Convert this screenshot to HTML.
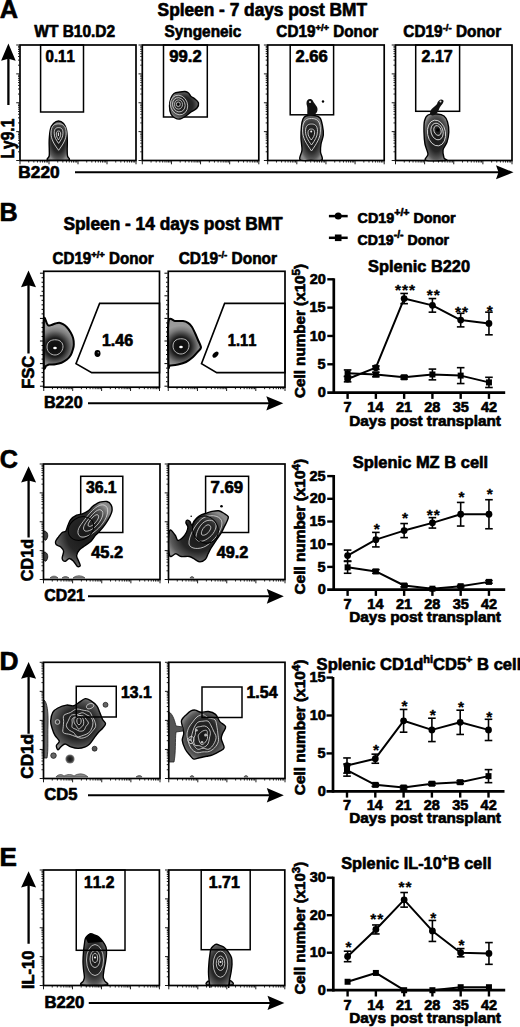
<!DOCTYPE html>
<html><head><meta charset="utf-8"><style>
html,body{margin:0;padding:0;background:#fff;}
svg{display:block;font-family:"Liberation Sans",sans-serif;font-weight:bold;font-kerning:none;}
text{stroke:#000;stroke-width:0.65px;stroke-linejoin:round;}
</style></head><body>
<svg width="520" height="1027" viewBox="0 0 520 1027">
<rect width="520" height="1027" fill="#fff"/>
<text transform="translate(-0.33,17.7) scale(1.0077,1)" font-size="25.15" fill="#000"><tspan>A</tspan></text>
<text transform="translate(157.6,16.4) scale(0.9920,1)" font-size="17.44" fill="#000"><tspan>Spleen - 7 days post BMT</tspan></text>
<text transform="translate(34.28,36.9) scale(0.9604,1)" font-size="16.13" fill="#000"><tspan>WT B10.D2</tspan></text>
<text transform="translate(164.56,36.6) scale(0.9793,1)" font-size="15.7" fill="#000"><tspan>Syngeneic</tspan></text>
<text transform="translate(276.37,36.6) scale(0.9545,1)" font-size="15.99" fill="#000"><tspan>CD19</tspan><tspan font-size="9.91" dy="-5.76">+/+</tspan><tspan font-size="15.99" dy="5.76"> Donor</tspan></text>
<text transform="translate(403.37,36.6) scale(0.9619,1)" font-size="15.99" fill="#000"><tspan>CD19</tspan><tspan font-size="9.91" dy="-5.76">-/-</tspan><tspan font-size="15.99" dy="5.76"> Donor</tspan></text>
<rect x="20" y="45" width="116" height="115.5" stroke="#000" stroke-width="1.7" fill="none"/>
<path d="M19.4,160.5h-3.2M19.4,151.81h-1.4M19.4,146.72h-1.4M19.4,143.12h-1.4M19.4,140.32h-1.4M19.4,138.03h-1.4M19.4,136.1h-1.4M19.4,134.42h-1.4M19.4,132.95h-1.4M19.4,131.62h-3.2M19.4,122.93h-1.4M19.4,117.85h-1.4M19.4,114.24h-1.4M19.4,111.44h-1.4M19.4,109.16h-1.4M19.4,107.22h-1.4M19.4,105.55h-1.4M19.4,104.07h-1.4M19.4,102.75h-3.2M19.4,94.06h-1.4M19.4,88.97h-1.4M19.4,85.37h-1.4M19.4,82.57h-1.4M19.4,80.28h-1.4M19.4,78.35h-1.4M19.4,76.67h-1.4M19.4,75.2h-1.4M19.4,73.88h-3.2M19.4,65.18h-1.4M19.4,60.1h-1.4M19.4,56.49h-1.4M19.4,53.69h-1.4M19.4,51.41h-1.4M19.4,49.47h-1.4M19.4,47.8h-1.4M19.4,46.32h-1.4M19.4,45h-3.2" stroke="#000" stroke-width="0.9"/>
<path d="M20,161.1v3.2M28.73,161.1v1.4M33.84,161.1v1.4M37.46,161.1v1.4M40.27,161.1v1.4M42.57,161.1v1.4M44.51,161.1v1.4M46.19,161.1v1.4M47.67,161.1v1.4M49,161.1v3.2M57.73,161.1v1.4M62.84,161.1v1.4M66.46,161.1v1.4M69.27,161.1v1.4M71.57,161.1v1.4M73.51,161.1v1.4M75.19,161.1v1.4M76.67,161.1v1.4M78,161.1v3.2M86.73,161.1v1.4M91.84,161.1v1.4M95.46,161.1v1.4M98.27,161.1v1.4M100.57,161.1v1.4M102.51,161.1v1.4M104.19,161.1v1.4M105.67,161.1v1.4M107,161.1v3.2M115.73,161.1v1.4M120.84,161.1v1.4M124.46,161.1v1.4M127.27,161.1v1.4M129.57,161.1v1.4M131.51,161.1v1.4M133.19,161.1v1.4M134.67,161.1v1.4M136,161.1v3.2" stroke="#000" stroke-width="0.9"/>
<rect x="142.3" y="45" width="116.5" height="115.5" stroke="#000" stroke-width="1.7" fill="none"/>
<path d="M141.7,160.5h-3.2M141.7,151.81h-1.4M141.7,146.72h-1.4M141.7,143.12h-1.4M141.7,140.32h-1.4M141.7,138.03h-1.4M141.7,136.1h-1.4M141.7,134.42h-1.4M141.7,132.95h-1.4M141.7,131.62h-3.2M141.7,122.93h-1.4M141.7,117.85h-1.4M141.7,114.24h-1.4M141.7,111.44h-1.4M141.7,109.16h-1.4M141.7,107.22h-1.4M141.7,105.55h-1.4M141.7,104.07h-1.4M141.7,102.75h-3.2M141.7,94.06h-1.4M141.7,88.97h-1.4M141.7,85.37h-1.4M141.7,82.57h-1.4M141.7,80.28h-1.4M141.7,78.35h-1.4M141.7,76.67h-1.4M141.7,75.2h-1.4M141.7,73.88h-3.2M141.7,65.18h-1.4M141.7,60.1h-1.4M141.7,56.49h-1.4M141.7,53.69h-1.4M141.7,51.41h-1.4M141.7,49.47h-1.4M141.7,47.8h-1.4M141.7,46.32h-1.4M141.7,45h-3.2" stroke="#000" stroke-width="0.9"/>
<path d="M142.3,161.1v3.2M151.07,161.1v1.4M156.2,161.1v1.4M159.83,161.1v1.4M162.66,161.1v1.4M164.96,161.1v1.4M166.91,161.1v1.4M168.6,161.1v1.4M170.09,161.1v1.4M171.43,161.1v3.2M180.19,161.1v1.4M185.32,161.1v1.4M188.96,161.1v1.4M191.78,161.1v1.4M194.09,161.1v1.4M196.04,161.1v1.4M197.73,161.1v1.4M199.22,161.1v1.4M200.55,161.1v3.2M209.32,161.1v1.4M214.45,161.1v1.4M218.08,161.1v1.4M220.91,161.1v1.4M223.21,161.1v1.4M225.16,161.1v1.4M226.85,161.1v1.4M228.34,161.1v1.4M229.68,161.1v3.2M238.44,161.1v1.4M243.57,161.1v1.4M247.21,161.1v1.4M250.03,161.1v1.4M252.34,161.1v1.4M254.29,161.1v1.4M255.98,161.1v1.4M257.47,161.1v1.4M258.8,161.1v3.2" stroke="#000" stroke-width="0.9"/>
<rect x="267.7" y="45" width="116.5" height="115.5" stroke="#000" stroke-width="1.7" fill="none"/>
<path d="M267.1,160.5h-3.2M267.1,151.81h-1.4M267.1,146.72h-1.4M267.1,143.12h-1.4M267.1,140.32h-1.4M267.1,138.03h-1.4M267.1,136.1h-1.4M267.1,134.42h-1.4M267.1,132.95h-1.4M267.1,131.62h-3.2M267.1,122.93h-1.4M267.1,117.85h-1.4M267.1,114.24h-1.4M267.1,111.44h-1.4M267.1,109.16h-1.4M267.1,107.22h-1.4M267.1,105.55h-1.4M267.1,104.07h-1.4M267.1,102.75h-3.2M267.1,94.06h-1.4M267.1,88.97h-1.4M267.1,85.37h-1.4M267.1,82.57h-1.4M267.1,80.28h-1.4M267.1,78.35h-1.4M267.1,76.67h-1.4M267.1,75.2h-1.4M267.1,73.88h-3.2M267.1,65.18h-1.4M267.1,60.1h-1.4M267.1,56.49h-1.4M267.1,53.69h-1.4M267.1,51.41h-1.4M267.1,49.47h-1.4M267.1,47.8h-1.4M267.1,46.32h-1.4M267.1,45h-3.2" stroke="#000" stroke-width="0.9"/>
<path d="M267.7,161.1v3.2M276.47,161.1v1.4M281.6,161.1v1.4M285.23,161.1v1.4M288.06,161.1v1.4M290.36,161.1v1.4M292.31,161.1v1.4M294,161.1v1.4M295.49,161.1v1.4M296.82,161.1v3.2M305.59,161.1v1.4M310.72,161.1v1.4M314.36,161.1v1.4M317.18,161.1v1.4M319.49,161.1v1.4M321.44,161.1v1.4M323.13,161.1v1.4M324.62,161.1v1.4M325.95,161.1v3.2M334.72,161.1v1.4M339.85,161.1v1.4M343.48,161.1v1.4M346.31,161.1v1.4M348.61,161.1v1.4M350.56,161.1v1.4M352.25,161.1v1.4M353.74,161.1v1.4M355.07,161.1v3.2M363.84,161.1v1.4M368.97,161.1v1.4M372.61,161.1v1.4M375.43,161.1v1.4M377.74,161.1v1.4M379.69,161.1v1.4M381.38,161.1v1.4M382.87,161.1v1.4M384.2,161.1v3.2" stroke="#000" stroke-width="0.9"/>
<rect x="395.5" y="45" width="116.5" height="115.5" stroke="#000" stroke-width="1.7" fill="none"/>
<path d="M394.9,160.5h-3.2M394.9,151.81h-1.4M394.9,146.72h-1.4M394.9,143.12h-1.4M394.9,140.32h-1.4M394.9,138.03h-1.4M394.9,136.1h-1.4M394.9,134.42h-1.4M394.9,132.95h-1.4M394.9,131.62h-3.2M394.9,122.93h-1.4M394.9,117.85h-1.4M394.9,114.24h-1.4M394.9,111.44h-1.4M394.9,109.16h-1.4M394.9,107.22h-1.4M394.9,105.55h-1.4M394.9,104.07h-1.4M394.9,102.75h-3.2M394.9,94.06h-1.4M394.9,88.97h-1.4M394.9,85.37h-1.4M394.9,82.57h-1.4M394.9,80.28h-1.4M394.9,78.35h-1.4M394.9,76.67h-1.4M394.9,75.2h-1.4M394.9,73.88h-3.2M394.9,65.18h-1.4M394.9,60.1h-1.4M394.9,56.49h-1.4M394.9,53.69h-1.4M394.9,51.41h-1.4M394.9,49.47h-1.4M394.9,47.8h-1.4M394.9,46.32h-1.4M394.9,45h-3.2" stroke="#000" stroke-width="0.9"/>
<path d="M395.5,161.1v3.2M404.27,161.1v1.4M409.4,161.1v1.4M413.03,161.1v1.4M415.86,161.1v1.4M418.16,161.1v1.4M420.11,161.1v1.4M421.8,161.1v1.4M423.29,161.1v1.4M424.62,161.1v3.2M433.39,161.1v1.4M438.52,161.1v1.4M442.16,161.1v1.4M444.98,161.1v1.4M447.29,161.1v1.4M449.24,161.1v1.4M450.93,161.1v1.4M452.42,161.1v1.4M453.75,161.1v3.2M462.52,161.1v1.4M467.65,161.1v1.4M471.28,161.1v1.4M474.11,161.1v1.4M476.41,161.1v1.4M478.36,161.1v1.4M480.05,161.1v1.4M481.54,161.1v1.4M482.88,161.1v3.2M491.64,161.1v1.4M496.77,161.1v1.4M500.41,161.1v1.4M503.23,161.1v1.4M505.54,161.1v1.4M507.49,161.1v1.4M509.18,161.1v1.4M510.67,161.1v1.4M512,161.1v3.2" stroke="#000" stroke-width="0.9"/>
<rect x="40.6" y="45" width="42.9" height="67" stroke="#000" stroke-width="1.5" fill="none"/>
<rect x="163.5" y="45" width="43.8" height="72" stroke="#000" stroke-width="1.5" fill="none"/>
<rect x="290.2" y="45" width="43.4" height="69.8" stroke="#000" stroke-width="1.5" fill="none"/>
<rect x="415.7" y="45" width="43.9" height="66.3" stroke="#000" stroke-width="1.5" fill="none"/>
<text transform="translate(45.61,61.7) scale(0.9387,1)" font-size="15.99" fill="#000"><tspan>0.11</tspan></text>
<text transform="translate(169.22,61.7) scale(1.0427,1)" font-size="15.99" fill="#000"><tspan>99.2</tspan></text>
<text transform="translate(295.43,61.7) scale(1.0372,1)" font-size="15.99" fill="#000"><tspan>2.66</tspan></text>
<text transform="translate(421.54,61.7) scale(1.0047,1)" font-size="15.99" fill="#000"><tspan>2.17</tspan></text>
<path d="M8.4,43.5 L15.7,60.8 L8.4,58.8 L1.1,60.8 Z" fill="#000"/>
<line x1="8.4" y1="58.3" x2="8.4" y2="105" stroke="#000" stroke-width="2.3" stroke-linecap="butt"/>
<text transform="translate(13.7,158.44) rotate(-90) scale(0.8918,1)" font-size="17.44" fill="#000"><tspan>Ly9.1</tspan></text>
<text transform="translate(18.34,178) scale(1.0263,1)" font-size="16.86" fill="#000"><tspan>B220</tspan></text>
<path d="M513.5,172.3 L496,165.3 L498.5,172.3 L496,179.3 Z" fill="#000"/>
<line x1="75" y1="172.3" x2="499" y2="172.3" stroke="#000" stroke-width="2" stroke-linecap="butt"/>
<radialGradient id="bg1" cx="0.5" cy="0.5" r="0.55"><stop offset="0" stop-color="#181818"/><stop offset="0.55" stop-color="#262626"/><stop offset="0.85" stop-color="#5a5a5a"/><stop offset="1" stop-color="#8a8a8a"/></radialGradient>
<path d="M58.5,121 C60.17,121 62.17,122 63.5,123.5 C64.83,125 65.87,127.25 66.5,130 C67.13,132.75 67.18,136.67 67.3,140 C67.42,143.33 67.17,147.33 67.2,150 C67.23,152.67 67.2,154.37 67.5,156 C67.8,157.63 70.58,159.08 69,159.8 C67.42,160.52 61.58,160.3 58,160.3 C54.42,160.3 48.97,160.52 47.5,159.8 C46.03,159.08 48.9,157.63 49.2,156 C49.5,154.37 49.3,152.67 49.3,150 C49.3,147.33 49,143.5 49.2,140 C49.4,136.5 49.78,131.75 50.5,129 C51.22,126.25 52.17,124.83 53.5,123.5 C54.83,122.17 56.83,121 58.5,121 Z" fill="url(#bg1)" stroke="#000" stroke-width="1.4"/>
<path d="M58.6,150.3 C62.78,144.47 66.2,139.7 66.2,133.07 C66.2,125.12 62.4,123.8 58.6,123.8 C54.8,123.8 51,125.12 51,133.07 C51,139.7 54.42,144.47 58.6,150.3 Z" fill="none" stroke="#d8d8d8" stroke-width="0.9"/>
<path d="M58.6,143.4 C61.02,139.92 63,137.08 63,133.13 C63,128.39 60.8,127.6 58.6,127.6 C56.4,127.6 54.2,128.39 54.2,133.13 C54.2,137.08 56.18,139.92 58.6,143.4 Z" fill="none" stroke="#d8d8d8" stroke-width="0.9"/>
<path d="M58.5,139.9 C59.71,137.94 60.7,136.34 60.7,134.12 C60.7,131.44 59.6,131 58.5,131 C57.4,131 56.3,131.44 56.3,134.12 C56.3,136.34 57.29,137.94 58.5,139.9 Z" fill="none" stroke="#d8d8d8" stroke-width="0.9"/>
<path d="M58.4,132.5 v3.5" stroke="#eee" stroke-width="1"/>
<radialGradient id="bg2" cx="0.5" cy="0.5" r="0.55"><stop offset="0" stop-color="#181818"/><stop offset="0.55" stop-color="#262626"/><stop offset="0.85" stop-color="#5a5a5a"/><stop offset="1" stop-color="#8a8a8a"/></radialGradient>
<path d="M174,93.5 C175.5,92.5 178.17,92.33 180,92 C181.83,91.67 183.58,91.33 185,91.5 C186.42,91.67 187.5,92.17 188.5,93 C189.5,93.83 189.92,95.5 191,96.5 C192.08,97.5 193.75,97.92 195,99 C196.25,100.08 198.17,101.5 198.5,103 C198.83,104.5 198.25,106.5 197,108 C195.75,109.5 192.83,110.67 191,112 C189.17,113.33 187.83,114.83 186,116 C184.17,117.17 181.83,118.67 180,119 C178.17,119.33 176.5,118.83 175,118 C173.5,117.17 171.92,116 171,114 C170.08,112 169.5,108.67 169.5,106 C169.5,103.33 170.25,100.08 171,98 C171.75,95.92 172.5,94.5 174,93.5 Z" fill="url(#bg2)" stroke="#000" stroke-width="1.4"/>
<g fill="none" stroke="#d0d0d0" stroke-width="0.8"><ellipse cx="179" cy="105" rx="8.5" ry="10" transform="rotate(-20 179 105)"/><ellipse cx="178.8" cy="104.8" rx="6.2" ry="7.2" transform="rotate(-20 178.8 104.8)"/><ellipse cx="178.5" cy="104.5" rx="4" ry="4.6"/><ellipse cx="178.3" cy="104.3" rx="2" ry="2.3"/></g>
<circle cx="178.3" cy="104.3" r="1" fill="#000"/>
<radialGradient id="bg3" cx="0.5" cy="0.5" r="0.55"><stop offset="0" stop-color="#181818"/><stop offset="0.55" stop-color="#262626"/><stop offset="0.85" stop-color="#5a5a5a"/><stop offset="1" stop-color="#8a8a8a"/></radialGradient>
<path d="M306,116 C307.83,115.42 311.67,115.17 314,115.5 C316.33,115.83 318.58,116.25 320,118 C321.42,119.75 321.95,123.17 322.5,126 C323.05,128.83 323.55,132 323.3,135 C323.05,138 321.47,141.17 321,144 C320.53,146.83 320.33,149.37 320.5,152 C320.67,154.63 323.58,158.42 322,159.8 C320.42,161.18 314.67,160.3 311,160.3 C307.33,160.3 301.5,161.52 300,159.8 C298.5,158.08 301.83,153.63 302,150 C302.17,146.37 301.08,142 301,138 C300.92,134 301.17,129.17 301.5,126 C301.83,122.83 302.25,120.67 303,119 C303.75,117.33 304.17,116.58 306,116 Z" fill="url(#bg3)" stroke="#000" stroke-width="1.4"/>
<path d="M311.5,151 C316.45,143.85 320.5,138 320.5,129.88 C320.5,120.12 316,118.5 311.5,118.5 C307,118.5 302.5,120.12 302.5,129.88 C302.5,138 306.55,143.85 311.5,151 Z" fill="none" stroke="#d8d8d8" stroke-width="0.9"/>
<path d="M311.5,145 C314.8,140.38 317.5,136.6 317.5,131.35 C317.5,125.05 314.5,124 311.5,124 C308.5,124 305.5,125.05 305.5,131.35 C305.5,136.6 308.2,140.38 311.5,145 Z" fill="none" stroke="#d8d8d8" stroke-width="0.9"/>
<path d="M311.3,140 C313.12,137.58 314.6,135.6 314.6,132.85 C314.6,129.55 312.95,129 311.3,129 C309.65,129 308,129.55 308,132.85 C308,135.6 309.49,137.58 311.3,140 Z" fill="none" stroke="#d8d8d8" stroke-width="0.9"/>
<circle cx="311.2" cy="131.5" r="1" fill="#eee"/>
<path d="M306.5,104 C306,99 311,97.5 313,101 C314,104 318,106 317.5,110 C317,114 313,116.5 309,116 C306,115 308,110 307,106 Z" fill="#111"/>
<circle cx="310" cy="102" r="1.1" fill="#ddd"/>
<circle cx="323" cy="101.5" r="1.2" fill="#000"/>
<radialGradient id="bg4" cx="0.5" cy="0.5" r="0.55"><stop offset="0" stop-color="#181818"/><stop offset="0.55" stop-color="#262626"/><stop offset="0.85" stop-color="#5a5a5a"/><stop offset="1" stop-color="#8a8a8a"/></radialGradient>
<path d="M428,115 C430.08,113.83 434.33,113.83 437,114 C439.67,114.17 442.25,114.67 444,116 C445.75,117.33 446.7,119.33 447.5,122 C448.3,124.67 448.88,128.67 448.8,132 C448.72,135.33 447.97,139 447,142 C446.03,145 443.5,147.33 443,150 C442.5,152.67 443.5,156.28 444,158 C444.5,159.72 449,159.92 446,160.3 C443,160.68 429,161.35 426,160.3 C423,159.25 428.17,156.72 428,154 C427.83,151.28 425.67,147.67 425,144 C424.33,140.33 424.08,135.83 424,132 C423.92,128.17 423.83,123.83 424.5,121 C425.17,118.17 425.92,116.17 428,115 Z" fill="url(#bg4)" stroke="#000" stroke-width="1.4"/>
<g fill="none" stroke="#d8d8d8" stroke-width="0.9"><ellipse cx="436.5" cy="133" rx="9" ry="13" transform="rotate(-10 436.5 133)"/><ellipse cx="437" cy="131.5" rx="6" ry="8.5" transform="rotate(-15 437 131.5)"/><ellipse cx="437.5" cy="130.5" rx="3.5" ry="5" transform="rotate(-20 437.5 130.5)"/></g>
<circle cx="437.8" cy="130" r="1.8" fill="#000"/>
<path d="M430,114 C430,108 435,107 437,104 C438,100 441,98.5 443,100 C445,102 441,105 439.5,108 C438,112 437,115 432,115.5 Z" fill="#111"/>
<circle cx="440.5" cy="101.5" r="1" fill="#ddd"/>
<text transform="translate(-0.53,221.2) scale(0.9952,1)" font-size="25.29" fill="#000"><tspan>B</tspan></text>
<text transform="translate(63.5,230.2) scale(0.9928,1)" font-size="17.44" fill="#000"><tspan>Spleen - 14 days post BMT</tspan></text>
<text transform="translate(52.48,264) scale(0.9488,1)" font-size="15.99" fill="#000"><tspan>CD19</tspan><tspan font-size="9.91" dy="-5.76">+/+</tspan><tspan font-size="15.99" dy="5.76"> Donor</tspan></text>
<text transform="translate(178.67,264) scale(0.9678,1)" font-size="15.99" fill="#000"><tspan>CD19</tspan><tspan font-size="9.91" dy="-5.76">-/-</tspan><tspan font-size="15.99" dy="5.76"> Donor</tspan></text>
<radialGradient id="gB0" gradientUnits="userSpaceOnUse" cx="55" cy="347.5" r="21"><stop offset="0" stop-color="#0a0a0a"/><stop offset="0.45" stop-color="#1a1a1a"/><stop offset="0.8" stop-color="#7a7a7a"/><stop offset="1" stop-color="#9a9a9a"/></radialGradient>
<path d="M43.8,319.6 C44.21,313.91 46.27,322.7 46.9,323.5 C47.53,324.3 47.89,325.4 48.5,325.6 C49.11,325.8 50.58,325.28 51.5,325 C52.42,324.72 54.37,323.81 55.4,323.5 C56.43,323.19 58.19,322.61 59.2,322.7 C60.21,322.79 61.97,323.59 63,324.2 C64.03,324.81 65.86,326.17 66.9,327.3 C67.94,328.43 69.97,331.26 70.8,332.7 C71.63,334.14 72.7,336.57 73.1,338.1 C73.5,339.63 73.8,342.77 73.8,344.2 C73.8,345.63 73.5,347.36 73.1,348.8 C72.7,350.24 71.63,353.56 70.8,355 C69.97,356.44 68.14,358.57 66.9,359.6 C65.66,360.63 63.03,362.09 61.5,362.7 C59.97,363.31 57.04,363.95 55.4,364.2 C53.76,364.45 50.43,364.39 49.2,364.6 C47.97,364.81 46.92,365.59 46.2,365.8 C45.48,366.01 44.12,372.36 43.8,366.2 C43.48,360.04 43.39,325.29 43.8,319.6 Z" fill="url(#gB0)" stroke="#000" stroke-width="2"/>
<path d="M47,347 C47,341 52,339.5 56,339.8 C60,340 63.2,342.5 63,347 C62.7,351.5 59,355 55,355 C51,355 47,352 47,347 Z" fill="none" stroke="#c8c8c8" stroke-width="0.9"/>
<ellipse cx="55" cy="348" rx="1.8" ry="1.2" fill="#fff"/>
<radialGradient id="gB1" gradientUnits="userSpaceOnUse" cx="181" cy="346.5" r="21"><stop offset="0" stop-color="#0a0a0a"/><stop offset="0.45" stop-color="#1a1a1a"/><stop offset="0.8" stop-color="#7a7a7a"/><stop offset="1" stop-color="#9a9a9a"/></radialGradient>
<path d="M168.5,321.5 C169.37,315.57 173.07,321.07 175,321 C176.93,320.93 181.27,320.76 183,321 C184.73,321.24 186.8,322 188,322.8 C189.2,323.6 191.07,325.64 192,327 C192.93,328.36 194.2,331.27 195,333 C195.8,334.73 197.2,338.07 198,340 C198.8,341.93 201,345.97 201,347.5 C201,349.03 199.07,350.23 198,351.5 C196.93,352.77 194.6,355.6 193,357 C191.4,358.4 188,361 186,362 C184,363 180.13,364.03 178,364.5 C175.87,364.97 171.27,365.37 170,365.5 C168.73,365.63 168.7,371.37 168.5,365.5 C168.3,359.63 167.63,327.43 168.5,321.5 Z" fill="url(#gB1)" stroke="#000" stroke-width="2"/>
<path d="M173,346 C173,340 178,338.5 182,338.8 C186,339 189.2,341.5 189,346 C188.7,350.5 185,354 181,354 C177,354 173,351 173,346 Z" fill="none" stroke="#c8c8c8" stroke-width="0.9"/>
<ellipse cx="181" cy="347" rx="1.8" ry="1.2" fill="#fff"/>
<rect x="43.75" y="271.3" width="115.75" height="115.9" stroke="#000" stroke-width="1.7" fill="none"/>
<path d="M43.15,386.2h-3.2M43.15,381.68h-1.6M43.15,377.16h-1.6M43.15,372.64h-1.6M43.15,368.12h-1.6M43.15,363.6h-3.2M43.15,359.08h-1.6M43.15,354.56h-1.6M43.15,350.04h-1.6M43.15,345.52h-1.6M43.15,341h-3.2M43.15,336.48h-1.6M43.15,331.96h-1.6M43.15,327.44h-1.6M43.15,322.92h-1.6M43.15,318.4h-3.2M43.15,313.88h-1.6M43.15,309.36h-1.6M43.15,304.84h-1.6M43.15,300.32h-1.6M43.15,295.8h-3.2M43.15,291.28h-1.6M43.15,286.76h-1.6M43.15,282.24h-1.6M43.15,277.72h-1.6M43.15,273.2h-3.2" stroke="#000" stroke-width="1"/>
<path d="M43.75,387.8v3.2M52.46,387.8v1.4M57.56,387.8v1.4M61.17,387.8v1.4M63.98,387.8v1.4M66.27,387.8v1.4M68.21,387.8v1.4M69.88,387.8v1.4M71.36,387.8v1.4M72.69,387.8v3.2M81.4,387.8v1.4M86.49,387.8v1.4M90.11,387.8v1.4M92.91,387.8v1.4M95.21,387.8v1.4M97.14,387.8v1.4M98.82,387.8v1.4M100.3,387.8v1.4M101.62,387.8v3.2M110.34,387.8v1.4M115.43,387.8v1.4M119.05,387.8v1.4M121.85,387.8v1.4M124.14,387.8v1.4M126.08,387.8v1.4M127.76,387.8v1.4M129.24,387.8v1.4M130.56,387.8v3.2M139.27,387.8v1.4M144.37,387.8v1.4M147.98,387.8v1.4M150.79,387.8v1.4M153.08,387.8v1.4M155.02,387.8v1.4M156.7,387.8v1.4M158.18,387.8v1.4M159.5,387.8v3.2" stroke="#000" stroke-width="0.9"/>
<rect x="168.25" y="271.3" width="116.75" height="115.9" stroke="#000" stroke-width="1.7" fill="none"/>
<path d="M167.65,386.2h-3.2M167.65,381.68h-1.6M167.65,377.16h-1.6M167.65,372.64h-1.6M167.65,368.12h-1.6M167.65,363.6h-3.2M167.65,359.08h-1.6M167.65,354.56h-1.6M167.65,350.04h-1.6M167.65,345.52h-1.6M167.65,341h-3.2M167.65,336.48h-1.6M167.65,331.96h-1.6M167.65,327.44h-1.6M167.65,322.92h-1.6M167.65,318.4h-3.2M167.65,313.88h-1.6M167.65,309.36h-1.6M167.65,304.84h-1.6M167.65,300.32h-1.6M167.65,295.8h-3.2M167.65,291.28h-1.6M167.65,286.76h-1.6M167.65,282.24h-1.6M167.65,277.72h-1.6M167.65,273.2h-3.2" stroke="#000" stroke-width="1"/>
<path d="M168.25,387.8v3.2M177.04,387.8v1.4M182.18,387.8v1.4M185.82,387.8v1.4M188.65,387.8v1.4M190.96,387.8v1.4M192.92,387.8v1.4M194.61,387.8v1.4M196.1,387.8v1.4M197.44,387.8v3.2M206.22,387.8v1.4M211.36,387.8v1.4M215.01,387.8v1.4M217.84,387.8v1.4M220.15,387.8v1.4M222.1,387.8v1.4M223.8,387.8v1.4M225.29,387.8v1.4M226.62,387.8v3.2M235.41,387.8v1.4M240.55,387.8v1.4M244.2,387.8v1.4M247.03,387.8v1.4M249.34,387.8v1.4M251.29,387.8v1.4M252.98,387.8v1.4M254.48,387.8v1.4M255.81,387.8v3.2M264.6,387.8v1.4M269.74,387.8v1.4M273.39,387.8v1.4M276.21,387.8v1.4M278.52,387.8v1.4M280.48,387.8v1.4M282.17,387.8v1.4M283.66,387.8v1.4M285,387.8v3.2" stroke="#000" stroke-width="0.9"/>
<path d="M99.6,303.4 L159.5,303.4 L159.5,372.6 L91.7,372.6 L76,363.7 Z" stroke="#000" stroke-width="1.6" fill="none" stroke-linejoin="miter"/>
<path d="M224.6,303.4 L285,303.4 L285,372.6 L216.7,372.6 L201.5,363.7 Z" stroke="#000" stroke-width="1.6" fill="none" stroke-linejoin="miter"/>
<ellipse cx="97.5" cy="353.5" rx="3" ry="3.4" fill="#000"/><circle cx="98.3" cy="352.8" r="0.8" fill="#888"/>
<ellipse cx="215.5" cy="354.6" rx="3.6" ry="2.2" transform="rotate(-45 215.5 354.6)" fill="#000"/>
<text transform="translate(101.99,345.7) scale(1.0174,1)" font-size="15.7" fill="#000"><tspan>1.46</tspan></text>
<text transform="translate(227.82,345.7) scale(0.9356,1)" font-size="15.7" fill="#000"><tspan>1.11</tspan></text>
<path d="M28.5,270.6 L36,287.3 L28.5,285.3 L21,287.3 Z" fill="#000"/>
<line x1="28.5" y1="284.8" x2="28.5" y2="353.5" stroke="#000" stroke-width="2.3" stroke-linecap="butt"/>
<text transform="translate(33.5,388.81) rotate(-90) scale(1.0153,1)" font-size="16.28" fill="#000"><tspan>FSC</tspan></text>
<text transform="translate(43.92,407.7) scale(1.0047,1)" font-size="16.13" fill="#000"><tspan>B220</tspan></text>
<path d="M283.3,403.3 L266.3,396.2 L268.8,403.3 L266.3,410.4 Z" fill="#000"/>
<line x1="88" y1="403.3" x2="269.3" y2="403.3" stroke="#000" stroke-width="2" stroke-linecap="butt"/>
<line x1="328.9" y1="216.1" x2="347.7" y2="216.1" stroke="#000" stroke-width="2.5" stroke-linecap="butt"/>
<circle cx="338.2" cy="216.1" r="3.5" fill="#000"/>
<line x1="328.9" y1="237.8" x2="347.7" y2="237.8" stroke="#000" stroke-width="2.5" stroke-linecap="butt"/>
<rect x="334.9" y="234.5" width="6.6" height="6.6" fill="#000"/>
<text transform="translate(357.61,223.2) scale(1.0375,1)" font-size="13.81" fill="#000"><tspan>CD19</tspan><tspan font-size="10.22" dy="-6.9">+/+</tspan><tspan font-size="13.81" dy="6.9"> Donor</tspan></text>
<text transform="translate(357.62,244.7) scale(1.0219,1)" font-size="13.81" fill="#000"><tspan>CD19</tspan><tspan font-size="10.22" dy="-6.9">-/-</tspan><tspan font-size="13.81" dy="6.9"> Donor</tspan></text>
<text transform="translate(368.03,271.6) scale(0.9732,1)" font-size="16.86" fill="#000"><tspan>Splenic B220</tspan></text>
<text transform="translate(305.2,398.02) rotate(-90) scale(1.0806,1)" font-size="14.1" fill="#000"><tspan>Cell number (x10</tspan><tspan font-size="10.72" dy="-5.08">5</tspan><tspan font-size="14.1" dy="5.08">)</tspan></text>
<line x1="333.8" y1="278.3" x2="333.8" y2="393.95" stroke="#000" stroke-width="2.7" stroke-linecap="butt"/>
<line x1="327.3" y1="392.6" x2="505.2" y2="392.6" stroke="#000" stroke-width="2.7" stroke-linecap="butt"/>
<text transform="translate(317.72,397.2) scale(0.9666,1)" font-size="15.02" fill="#000"><tspan>0</tspan></text>
<line x1="327.3" y1="364.28" x2="333.8" y2="364.28" stroke="#000" stroke-width="2.4" stroke-linecap="butt"/>
<text transform="translate(317.53,368.88) scale(0.9666,1)" font-size="15.02" fill="#000"><tspan>5</tspan></text>
<line x1="327.3" y1="335.95" x2="333.8" y2="335.95" stroke="#000" stroke-width="2.4" stroke-linecap="butt"/>
<text transform="translate(309.64,340.55) scale(0.9666,1)" font-size="15.02" fill="#000"><tspan>10</tspan></text>
<line x1="327.3" y1="307.62" x2="333.8" y2="307.62" stroke="#000" stroke-width="2.4" stroke-linecap="butt"/>
<text transform="translate(309.45,312.23) scale(0.9666,1)" font-size="15.02" fill="#000"><tspan>15</tspan></text>
<line x1="327.3" y1="279.3" x2="333.8" y2="279.3" stroke="#000" stroke-width="2.4" stroke-linecap="butt"/>
<text transform="translate(309.64,283.9) scale(0.9666,1)" font-size="15.02" fill="#000"><tspan>20</tspan></text>
<line x1="347.6" y1="392.6" x2="347.6" y2="398.9" stroke="#000" stroke-width="2.4" stroke-linecap="butt"/>
<text transform="translate(343.57,411.8) scale(0.9701,1)" font-size="14.97" fill="#000"><tspan>7</tspan></text>
<line x1="375.87" y1="392.6" x2="375.87" y2="398.9" stroke="#000" stroke-width="2.4" stroke-linecap="butt"/>
<text transform="translate(367.37,411.8) scale(0.9701,1)" font-size="14.97" fill="#000"><tspan>14</tspan></text>
<line x1="404.14" y1="392.6" x2="404.14" y2="398.9" stroke="#000" stroke-width="2.4" stroke-linecap="butt"/>
<text transform="translate(396.01,411.8) scale(0.9701,1)" font-size="14.97" fill="#000"><tspan>21</tspan></text>
<line x1="432.41" y1="392.6" x2="432.41" y2="398.9" stroke="#000" stroke-width="2.4" stroke-linecap="butt"/>
<text transform="translate(424.3,411.8) scale(0.9701,1)" font-size="14.97" fill="#000"><tspan>28</tspan></text>
<line x1="460.68" y1="392.6" x2="460.68" y2="398.9" stroke="#000" stroke-width="2.4" stroke-linecap="butt"/>
<text transform="translate(452.64,411.8) scale(0.9701,1)" font-size="14.97" fill="#000"><tspan>35</tspan></text>
<line x1="488.95" y1="392.6" x2="488.95" y2="398.9" stroke="#000" stroke-width="2.4" stroke-linecap="butt"/>
<text transform="translate(481.05,411.8) scale(0.9701,1)" font-size="14.97" fill="#000"><tspan>42</tspan></text>
<text transform="translate(349.27,425.7) scale(1.0346,1)" font-size="14.83" fill="#000"><tspan>Days post transplant</tspan></text>
<polyline points="347.6,373.34 375.87,374.47 404.14,377.3 432.41,374.47 460.68,375.61 488.95,382.4" fill="none" stroke="#000" stroke-width="2" stroke-linejoin="round"/>
<line x1="347.6" y1="369.94" x2="347.6" y2="376.74" stroke="#000" stroke-width="1.6" stroke-linecap="butt"/>
<line x1="343.8" y1="369.94" x2="351.4" y2="369.94" stroke="#000" stroke-width="1.6" stroke-linecap="butt"/>
<line x1="343.8" y1="376.74" x2="351.4" y2="376.74" stroke="#000" stroke-width="1.6" stroke-linecap="butt"/>
<rect x="344.6" y="370.34" width="6" height="6" fill="#000"/>
<line x1="375.87" y1="372.21" x2="375.87" y2="376.74" stroke="#000" stroke-width="1.6" stroke-linecap="butt"/>
<line x1="372.07" y1="372.21" x2="379.67" y2="372.21" stroke="#000" stroke-width="1.6" stroke-linecap="butt"/>
<line x1="372.07" y1="376.74" x2="379.67" y2="376.74" stroke="#000" stroke-width="1.6" stroke-linecap="butt"/>
<rect x="372.87" y="371.47" width="6" height="6" fill="#000"/>
<line x1="404.14" y1="375.61" x2="404.14" y2="379" stroke="#000" stroke-width="1.6" stroke-linecap="butt"/>
<line x1="400.34" y1="375.61" x2="407.94" y2="375.61" stroke="#000" stroke-width="1.6" stroke-linecap="butt"/>
<line x1="400.34" y1="379" x2="407.94" y2="379" stroke="#000" stroke-width="1.6" stroke-linecap="butt"/>
<rect x="401.14" y="374.3" width="6" height="6" fill="#000"/>
<line x1="432.41" y1="369.09" x2="432.41" y2="379.85" stroke="#000" stroke-width="1.6" stroke-linecap="butt"/>
<line x1="428.61" y1="369.09" x2="436.21" y2="369.09" stroke="#000" stroke-width="1.6" stroke-linecap="butt"/>
<line x1="428.61" y1="379.85" x2="436.21" y2="379.85" stroke="#000" stroke-width="1.6" stroke-linecap="butt"/>
<rect x="429.41" y="371.47" width="6" height="6" fill="#000"/>
<line x1="460.68" y1="367.67" x2="460.68" y2="383.54" stroke="#000" stroke-width="1.6" stroke-linecap="butt"/>
<line x1="456.88" y1="367.67" x2="464.48" y2="367.67" stroke="#000" stroke-width="1.6" stroke-linecap="butt"/>
<line x1="456.88" y1="383.54" x2="464.48" y2="383.54" stroke="#000" stroke-width="1.6" stroke-linecap="butt"/>
<rect x="457.68" y="372.61" width="6" height="6" fill="#000"/>
<line x1="488.95" y1="377.3" x2="488.95" y2="387.5" stroke="#000" stroke-width="1.6" stroke-linecap="butt"/>
<line x1="485.15" y1="377.3" x2="492.75" y2="377.3" stroke="#000" stroke-width="1.6" stroke-linecap="butt"/>
<line x1="485.15" y1="387.5" x2="492.75" y2="387.5" stroke="#000" stroke-width="1.6" stroke-linecap="butt"/>
<rect x="485.95" y="379.4" width="6" height="6" fill="#000"/>
<polyline points="347.6,379 375.87,367.67 404.14,298.56 432.41,305.36 460.68,320.09 488.95,323.49" fill="none" stroke="#000" stroke-width="2" stroke-linejoin="round"/>
<line x1="347.6" y1="376.17" x2="347.6" y2="381.84" stroke="#000" stroke-width="1.6" stroke-linecap="butt"/>
<line x1="343.8" y1="376.17" x2="351.4" y2="376.17" stroke="#000" stroke-width="1.6" stroke-linecap="butt"/>
<line x1="343.8" y1="381.84" x2="351.4" y2="381.84" stroke="#000" stroke-width="1.6" stroke-linecap="butt"/>
<circle cx="347.6" cy="379" r="3.4" fill="#000"/>
<line x1="375.87" y1="365.97" x2="375.87" y2="369.37" stroke="#000" stroke-width="1.6" stroke-linecap="butt"/>
<line x1="372.07" y1="365.97" x2="379.67" y2="365.97" stroke="#000" stroke-width="1.6" stroke-linecap="butt"/>
<line x1="372.07" y1="369.37" x2="379.67" y2="369.37" stroke="#000" stroke-width="1.6" stroke-linecap="butt"/>
<circle cx="375.87" cy="367.67" r="3.4" fill="#000"/>
<line x1="404.14" y1="293.46" x2="404.14" y2="303.66" stroke="#000" stroke-width="1.6" stroke-linecap="butt"/>
<line x1="400.34" y1="293.46" x2="407.94" y2="293.46" stroke="#000" stroke-width="1.6" stroke-linecap="butt"/>
<line x1="400.34" y1="303.66" x2="407.94" y2="303.66" stroke="#000" stroke-width="1.6" stroke-linecap="butt"/>
<circle cx="404.14" cy="298.56" r="3.4" fill="#000"/>
<line x1="432.41" y1="298.56" x2="432.41" y2="312.16" stroke="#000" stroke-width="1.6" stroke-linecap="butt"/>
<line x1="428.61" y1="298.56" x2="436.21" y2="298.56" stroke="#000" stroke-width="1.6" stroke-linecap="butt"/>
<line x1="428.61" y1="312.16" x2="436.21" y2="312.16" stroke="#000" stroke-width="1.6" stroke-linecap="butt"/>
<circle cx="432.41" cy="305.36" r="3.4" fill="#000"/>
<line x1="460.68" y1="313.29" x2="460.68" y2="326.89" stroke="#000" stroke-width="1.6" stroke-linecap="butt"/>
<line x1="456.88" y1="313.29" x2="464.48" y2="313.29" stroke="#000" stroke-width="1.6" stroke-linecap="butt"/>
<line x1="456.88" y1="326.89" x2="464.48" y2="326.89" stroke="#000" stroke-width="1.6" stroke-linecap="butt"/>
<circle cx="460.68" cy="320.09" r="3.4" fill="#000"/>
<line x1="488.95" y1="312.16" x2="488.95" y2="334.82" stroke="#000" stroke-width="1.6" stroke-linecap="butt"/>
<line x1="485.15" y1="312.16" x2="492.75" y2="312.16" stroke="#000" stroke-width="1.6" stroke-linecap="butt"/>
<line x1="485.15" y1="334.82" x2="492.75" y2="334.82" stroke="#000" stroke-width="1.6" stroke-linecap="butt"/>
<circle cx="488.95" cy="323.49" r="3.4" fill="#000"/>
<text x="394.89" y="295.08" font-size="15.5" letter-spacing="1" style="stroke-width:0.3px">***</text>
<text x="426.68" y="299.78" font-size="15.5" letter-spacing="1" style="stroke-width:0.3px">**</text>
<text x="454.95" y="316.58" font-size="15.5" letter-spacing="1" style="stroke-width:0.3px">**</text>
<text x="486.73" y="315.68" font-size="15.5" letter-spacing="1" style="stroke-width:0.3px">*</text>
<text transform="translate(-0.24,468.3) scale(0.9754,1)" font-size="25.87" fill="#000"><tspan>C</tspan></text>
<path d="M50,578 C52,575.5 56,575.5 58,578 Z M62,578 C64,576 67,576 69,578 Z M73,578 C76,575 82,575 85,578 Z M190,578 C191,576 193,576 194,578 Z" fill="#888" stroke="#333" stroke-width="0.6"/>
<rect x="43.5" y="464" width="116.5" height="115.5" stroke="#000" stroke-width="1.7" fill="none"/>
<path d="M42.9,579.5h-3.2M42.9,570.81h-1.4M42.9,565.72h-1.4M42.9,562.12h-1.4M42.9,559.32h-1.4M42.9,557.03h-1.4M42.9,555.1h-1.4M42.9,553.42h-1.4M42.9,551.95h-1.4M42.9,550.62h-3.2M42.9,541.93h-1.4M42.9,536.85h-1.4M42.9,533.24h-1.4M42.9,530.44h-1.4M42.9,528.16h-1.4M42.9,526.22h-1.4M42.9,524.55h-1.4M42.9,523.07h-1.4M42.9,521.75h-3.2M42.9,513.06h-1.4M42.9,507.97h-1.4M42.9,504.37h-1.4M42.9,501.57h-1.4M42.9,499.28h-1.4M42.9,497.35h-1.4M42.9,495.67h-1.4M42.9,494.2h-1.4M42.9,492.88h-3.2M42.9,484.18h-1.4M42.9,479.1h-1.4M42.9,475.49h-1.4M42.9,472.69h-1.4M42.9,470.41h-1.4M42.9,468.47h-1.4M42.9,466.8h-1.4M42.9,465.32h-1.4M42.9,464h-3.2" stroke="#000" stroke-width="0.9"/>
<path d="M43.5,580.1v3.2M52.27,580.1v1.4M57.4,580.1v1.4M61.03,580.1v1.4M63.86,580.1v1.4M66.16,580.1v1.4M68.11,580.1v1.4M69.8,580.1v1.4M71.29,580.1v1.4M72.62,580.1v3.2M81.39,580.1v1.4M86.52,580.1v1.4M90.16,580.1v1.4M92.98,580.1v1.4M95.29,580.1v1.4M97.24,580.1v1.4M98.93,580.1v1.4M100.42,580.1v1.4M101.75,580.1v3.2M110.52,580.1v1.4M115.65,580.1v1.4M119.28,580.1v1.4M122.11,580.1v1.4M124.41,580.1v1.4M126.36,580.1v1.4M128.05,580.1v1.4M129.54,580.1v1.4M130.88,580.1v3.2M139.64,580.1v1.4M144.77,580.1v1.4M148.41,580.1v1.4M151.23,580.1v1.4M153.54,580.1v1.4M155.49,580.1v1.4M157.18,580.1v1.4M158.67,580.1v1.4M160,580.1v3.2" stroke="#000" stroke-width="0.9"/>
<rect x="168.5" y="464" width="116.5" height="115.5" stroke="#000" stroke-width="1.7" fill="none"/>
<path d="M167.9,579.5h-3.2M167.9,570.81h-1.4M167.9,565.72h-1.4M167.9,562.12h-1.4M167.9,559.32h-1.4M167.9,557.03h-1.4M167.9,555.1h-1.4M167.9,553.42h-1.4M167.9,551.95h-1.4M167.9,550.62h-3.2M167.9,541.93h-1.4M167.9,536.85h-1.4M167.9,533.24h-1.4M167.9,530.44h-1.4M167.9,528.16h-1.4M167.9,526.22h-1.4M167.9,524.55h-1.4M167.9,523.07h-1.4M167.9,521.75h-3.2M167.9,513.06h-1.4M167.9,507.97h-1.4M167.9,504.37h-1.4M167.9,501.57h-1.4M167.9,499.28h-1.4M167.9,497.35h-1.4M167.9,495.67h-1.4M167.9,494.2h-1.4M167.9,492.88h-3.2M167.9,484.18h-1.4M167.9,479.1h-1.4M167.9,475.49h-1.4M167.9,472.69h-1.4M167.9,470.41h-1.4M167.9,468.47h-1.4M167.9,466.8h-1.4M167.9,465.32h-1.4M167.9,464h-3.2" stroke="#000" stroke-width="0.9"/>
<path d="M168.5,580.1v3.2M177.27,580.1v1.4M182.4,580.1v1.4M186.03,580.1v1.4M188.86,580.1v1.4M191.16,580.1v1.4M193.11,580.1v1.4M194.8,580.1v1.4M196.29,580.1v1.4M197.62,580.1v3.2M206.39,580.1v1.4M211.52,580.1v1.4M215.16,580.1v1.4M217.98,580.1v1.4M220.29,580.1v1.4M222.24,580.1v1.4M223.93,580.1v1.4M225.42,580.1v1.4M226.75,580.1v3.2M235.52,580.1v1.4M240.65,580.1v1.4M244.28,580.1v1.4M247.11,580.1v1.4M249.41,580.1v1.4M251.36,580.1v1.4M253.05,580.1v1.4M254.54,580.1v1.4M255.88,580.1v3.2M264.64,580.1v1.4M269.77,580.1v1.4M273.41,580.1v1.4M276.23,580.1v1.4M278.54,580.1v1.4M280.49,580.1v1.4M282.18,580.1v1.4M283.67,580.1v1.4M285,580.1v3.2" stroke="#000" stroke-width="0.9"/>
<rect x="80.7" y="476.3" width="42.1" height="56.2" stroke="#000" stroke-width="1.5" fill="none"/>
<rect x="205.6" y="476.3" width="43" height="56.2" stroke="#000" stroke-width="1.5" fill="none"/>
<radialGradient id="bg5" cx="0.5" cy="0.5" r="0.55"><stop offset="0" stop-color="#181818"/><stop offset="0.55" stop-color="#262626"/><stop offset="0.85" stop-color="#5a5a5a"/><stop offset="1" stop-color="#8a8a8a"/></radialGradient>
<path d="M99.7,502.2 C101.38,501.83 104.98,501.02 106.9,501.5 C108.82,501.98 110.35,503.53 111.2,505.1 C112.05,506.67 112.23,508.98 112,510.9 C111.77,512.82 110.88,514.45 109.8,516.6 C108.72,518.75 107.18,521.38 105.5,523.8 C103.82,526.22 101.38,529.17 99.7,531.1 C98.02,533.03 96.85,533.72 95.4,535.4 C93.95,537.08 92.68,539.52 91,541.2 C89.32,542.88 87.22,544.07 85.3,545.5 C83.38,546.93 80.95,548.12 79.5,549.8 C78.05,551.48 76.72,553.67 76.6,555.6 C76.48,557.53 78.2,559.72 78.8,561.4 C79.4,563.08 80.45,564.87 80.2,565.7 C79.95,566.53 78.38,567.12 77.3,566.4 C76.22,565.68 75.02,562.72 73.7,561.4 C72.38,560.08 70.83,558.5 69.4,558.5 C67.97,558.5 66.3,561.4 65.1,561.4 C63.9,561.4 62.45,560.18 62.2,558.5 C61.95,556.82 63.83,553.23 63.6,551.3 C63.37,549.37 62,547.98 60.8,546.9 C59.6,545.82 57.25,545.75 56.4,544.8 C55.55,543.85 55.33,542.53 55.7,541.2 C56.07,539.87 57.52,538.25 58.6,536.8 C59.68,535.35 61,533.45 62.2,532.5 C63.4,531.55 64.83,532.3 65.8,531.1 C66.77,529.9 67.17,527.23 68,525.3 C68.83,523.37 69.37,521.18 70.8,519.5 C72.23,517.82 74.67,516.15 76.6,515.2 C78.53,514.25 80.47,514.52 82.4,513.8 C84.33,513.08 86.52,512.12 88.2,510.9 C89.88,509.68 91.07,507.7 92.5,506.5 C93.93,505.3 95.6,504.42 96.8,503.7 C98,502.98 98.02,502.57 99.7,502.2 Z" fill="url(#bg5)" stroke="#000" stroke-width="1.4"/>
<g fill="none" stroke="#ddd" stroke-width="0.8"><path d="M104,505 C110,507 108,516 103,523 C98,530 90,536 84,537 C78,538 76,532 80,526 C85,519 96,503 104,505 Z"/><path d="M101,510 C105,512 102,519 98,524 C94,529 88,532 85,531 C82,529 84,525 87,521 C91,516 97,508 101,510 Z"/><path d="M98,515 C100,517 97,521 94,524 C91,527 88,527 88,525 C88,523 91,519 93,517 C95,515 97,514 98,515 Z"/></g>
<ellipse cx="81" cy="528.5" rx="13.5" ry="11" transform="rotate(-35 81 528.5)" fill="none" stroke="#000" stroke-width="1"/>
<path d="M44,531 C48,531 49,537 46,540 C44,541 43.5,538 44,531 Z M44,552 C48,552 49,558 46,561 C44,562 43.5,559 44,552 Z" fill="#444" stroke="#000" stroke-width="0.8"/>
<radialGradient id="bg6" cx="0.5" cy="0.5" r="0.55"><stop offset="0" stop-color="#181818"/><stop offset="0.55" stop-color="#262626"/><stop offset="0.85" stop-color="#5a5a5a"/><stop offset="1" stop-color="#8a8a8a"/></radialGradient>
<path d="M205.4,513.5 C207.2,512.93 209.87,511.85 212.1,511.4 C214.33,510.95 216.78,510.45 218.8,510.8 C220.82,511.15 222.62,512.5 224.2,513.5 C225.78,514.5 227.85,515.47 228.3,516.8 C228.75,518.13 227.58,519.82 226.9,521.5 C226.22,523.18 225.1,525.1 224.2,526.9 C223.3,528.7 222.85,530.05 221.5,532.3 C220.15,534.55 217.88,537.7 216.1,540.4 C214.32,543.1 212.13,546.27 210.8,548.5 C209.47,550.73 209,552.02 208.1,553.8 C207.2,555.58 206.75,557.85 205.4,559.2 C204.05,560.55 201.8,561.9 200,561.9 C198.2,561.9 196.4,560.1 194.6,559.2 C192.8,558.3 191.43,556.95 189.2,556.5 C186.97,556.05 183.43,556.95 181.2,556.5 C178.97,556.05 177.75,554.02 175.8,553.8 C173.85,553.58 170.55,559 169.5,555.2 C168.45,551.4 168.57,534.37 169.5,531 C170.43,527.63 173.72,533.43 175.1,535 C176.48,536.57 176.57,539.95 177.8,540.4 C179.03,540.85 181.05,539.05 182.5,537.7 C183.95,536.35 185.6,534.1 186.5,532.3 C187.4,530.5 188,528.47 187.9,526.9 C187.8,525.33 186.02,524.02 185.9,522.9 C185.78,521.78 186.53,520.43 187.2,520.2 C187.87,519.97 189.12,520.6 189.9,521.5 C190.68,522.4 191.23,525.6 191.9,525.6 C192.57,525.6 193,522.85 193.9,521.5 C194.8,520.15 196.07,518.62 197.3,517.5 C198.53,516.38 199.95,515.47 201.3,514.8 C202.65,514.13 203.6,514.07 205.4,513.5 Z" fill="url(#bg6)" stroke="#000" stroke-width="1.4"/>
<g fill="none" stroke="#ddd" stroke-width="0.8"><path d="M205,517 C212,514 222,516 222,523 C222,531 214,541 206,546 C199,550 190,549 189,544 C188,537 197,520 205,517 Z"/><path d="M206,521 C211,519 217,521 216,527 C215,533 209,539 203,541 C198,542 195,540 196,536 C197,530 201,523 206,521 Z"/><path d="M207,525 C210,524 212,527 210,530 C208,534 204,536 202,535 C200,533 203,527 207,525 Z"/></g>
<ellipse cx="205.4" cy="529.6" rx="12.5" ry="14" transform="rotate(-30 205.4 529.6)" fill="none" stroke="#000" stroke-width="1"/>
<circle cx="221.5" cy="506.2" r="1.3" fill="#000"/><circle cx="191.2" cy="516.2" r="0.8" fill="#000"/>
<text transform="translate(85.89,493) scale(1.0082,1)" font-size="15.7" fill="#000"><tspan>36.1</tspan></text>
<text transform="translate(91.25,558.2) scale(1.0443,1)" font-size="15.7" fill="#000"><tspan>45.2</tspan></text>
<text transform="translate(210.53,492.6) scale(1.0667,1)" font-size="15.7" fill="#000"><tspan>7.69</tspan></text>
<text transform="translate(216.75,558.3) scale(1.0342,1)" font-size="15.7" fill="#000"><tspan>49.2</tspan></text>
<path d="M28.6,466.2 L36.1,482.5 L28.6,480.5 L21.1,482.5 Z" fill="#000"/>
<line x1="28.6" y1="480" x2="28.6" y2="537.5" stroke="#000" stroke-width="2.3" stroke-linecap="butt"/>
<text transform="translate(33.3,581.16) rotate(-90) scale(0.9934,1)" font-size="16.28" fill="#000"><tspan>CD1d</tspan></text>
<text transform="translate(44.35,600.6) scale(0.9931,1)" font-size="15.99" fill="#000"><tspan>CD21</tspan></text>
<path d="M283.8,596.3 L266.8,588.9 L269.3,596.3 L266.8,603.7 Z" fill="#000"/>
<line x1="88" y1="596.3" x2="269.8" y2="596.3" stroke="#000" stroke-width="2" stroke-linecap="butt"/>
<text transform="translate(352.73,468.2) scale(0.9946,1)" font-size="16.57" fill="#000"><tspan>Splenic MZ B cell</tspan></text>
<text transform="translate(305.2,594.53) rotate(-90) scale(1.0928,1)" font-size="14.1" fill="#000"><tspan>Cell number (x10</tspan><tspan font-size="10.72" dy="-5.08">4</tspan><tspan font-size="14.1" dy="5.08">)</tspan></text>
<line x1="333.7" y1="475" x2="333.7" y2="590.95" stroke="#000" stroke-width="2.7" stroke-linecap="butt"/>
<line x1="327.2" y1="589.6" x2="505.2" y2="589.6" stroke="#000" stroke-width="2.7" stroke-linecap="butt"/>
<text transform="translate(317.72,594.2) scale(0.9666,1)" font-size="15.02" fill="#000"><tspan>0</tspan></text>
<line x1="327.2" y1="566.9" x2="333.7" y2="566.9" stroke="#000" stroke-width="2.4" stroke-linecap="butt"/>
<text transform="translate(317.53,571.5) scale(0.9666,1)" font-size="15.02" fill="#000"><tspan>5</tspan></text>
<line x1="327.2" y1="544.2" x2="333.7" y2="544.2" stroke="#000" stroke-width="2.4" stroke-linecap="butt"/>
<text transform="translate(309.64,548.8) scale(0.9666,1)" font-size="15.02" fill="#000"><tspan>10</tspan></text>
<line x1="327.2" y1="521.5" x2="333.7" y2="521.5" stroke="#000" stroke-width="2.4" stroke-linecap="butt"/>
<text transform="translate(309.45,526.1) scale(0.9666,1)" font-size="15.02" fill="#000"><tspan>15</tspan></text>
<line x1="327.2" y1="498.8" x2="333.7" y2="498.8" stroke="#000" stroke-width="2.4" stroke-linecap="butt"/>
<text transform="translate(309.64,503.4) scale(0.9666,1)" font-size="15.02" fill="#000"><tspan>20</tspan></text>
<line x1="327.2" y1="476.1" x2="333.7" y2="476.1" stroke="#000" stroke-width="2.4" stroke-linecap="butt"/>
<text transform="translate(309.45,480.7) scale(0.9666,1)" font-size="15.02" fill="#000"><tspan>25</tspan></text>
<line x1="347.6" y1="589.6" x2="347.6" y2="595.9" stroke="#000" stroke-width="2.4" stroke-linecap="butt"/>
<text transform="translate(343.57,608.5) scale(0.9701,1)" font-size="14.97" fill="#000"><tspan>7</tspan></text>
<line x1="375.87" y1="589.6" x2="375.87" y2="595.9" stroke="#000" stroke-width="2.4" stroke-linecap="butt"/>
<text transform="translate(367.37,608.5) scale(0.9701,1)" font-size="14.97" fill="#000"><tspan>14</tspan></text>
<line x1="404.14" y1="589.6" x2="404.14" y2="595.9" stroke="#000" stroke-width="2.4" stroke-linecap="butt"/>
<text transform="translate(396.01,608.5) scale(0.9701,1)" font-size="14.97" fill="#000"><tspan>21</tspan></text>
<line x1="432.41" y1="589.6" x2="432.41" y2="595.9" stroke="#000" stroke-width="2.4" stroke-linecap="butt"/>
<text transform="translate(424.3,608.5) scale(0.9701,1)" font-size="14.97" fill="#000"><tspan>28</tspan></text>
<line x1="460.68" y1="589.6" x2="460.68" y2="595.9" stroke="#000" stroke-width="2.4" stroke-linecap="butt"/>
<text transform="translate(452.64,608.5) scale(0.9701,1)" font-size="14.97" fill="#000"><tspan>35</tspan></text>
<line x1="488.95" y1="589.6" x2="488.95" y2="595.9" stroke="#000" stroke-width="2.4" stroke-linecap="butt"/>
<text transform="translate(481.05,608.5) scale(0.9701,1)" font-size="14.97" fill="#000"><tspan>42</tspan></text>
<text transform="translate(349.27,622.2) scale(1.0346,1)" font-size="14.83" fill="#000"><tspan>Days post transplant</tspan></text>
<polyline points="347.6,567.35 375.87,571.44 404.14,585.51 432.41,588.69 460.68,586.2 488.95,581.88" fill="none" stroke="#000" stroke-width="2" stroke-linejoin="round"/>
<line x1="347.6" y1="561.45" x2="347.6" y2="573.26" stroke="#000" stroke-width="1.6" stroke-linecap="butt"/>
<line x1="343.8" y1="561.45" x2="351.4" y2="561.45" stroke="#000" stroke-width="1.6" stroke-linecap="butt"/>
<line x1="343.8" y1="573.26" x2="351.4" y2="573.26" stroke="#000" stroke-width="1.6" stroke-linecap="butt"/>
<rect x="344.6" y="564.35" width="6" height="6" fill="#000"/>
<line x1="375.87" y1="569.62" x2="375.87" y2="573.26" stroke="#000" stroke-width="1.6" stroke-linecap="butt"/>
<line x1="372.07" y1="569.62" x2="379.67" y2="569.62" stroke="#000" stroke-width="1.6" stroke-linecap="butt"/>
<line x1="372.07" y1="573.26" x2="379.67" y2="573.26" stroke="#000" stroke-width="1.6" stroke-linecap="butt"/>
<rect x="372.87" y="568.44" width="6" height="6" fill="#000"/>
<line x1="404.14" y1="584.15" x2="404.14" y2="586.88" stroke="#000" stroke-width="1.6" stroke-linecap="butt"/>
<line x1="400.34" y1="584.15" x2="407.94" y2="584.15" stroke="#000" stroke-width="1.6" stroke-linecap="butt"/>
<line x1="400.34" y1="586.88" x2="407.94" y2="586.88" stroke="#000" stroke-width="1.6" stroke-linecap="butt"/>
<rect x="401.14" y="582.51" width="6" height="6" fill="#000"/>
<line x1="432.41" y1="587.78" x2="432.41" y2="589.6" stroke="#000" stroke-width="1.6" stroke-linecap="butt"/>
<line x1="428.61" y1="587.78" x2="436.21" y2="587.78" stroke="#000" stroke-width="1.6" stroke-linecap="butt"/>
<line x1="428.61" y1="589.6" x2="436.21" y2="589.6" stroke="#000" stroke-width="1.6" stroke-linecap="butt"/>
<rect x="429.41" y="585.69" width="6" height="6" fill="#000"/>
<line x1="460.68" y1="585.29" x2="460.68" y2="587.1" stroke="#000" stroke-width="1.6" stroke-linecap="butt"/>
<line x1="456.88" y1="585.29" x2="464.48" y2="585.29" stroke="#000" stroke-width="1.6" stroke-linecap="butt"/>
<line x1="456.88" y1="587.1" x2="464.48" y2="587.1" stroke="#000" stroke-width="1.6" stroke-linecap="butt"/>
<rect x="457.68" y="583.2" width="6" height="6" fill="#000"/>
<line x1="488.95" y1="580.52" x2="488.95" y2="583.24" stroke="#000" stroke-width="1.6" stroke-linecap="butt"/>
<line x1="485.15" y1="580.52" x2="492.75" y2="580.52" stroke="#000" stroke-width="1.6" stroke-linecap="butt"/>
<line x1="485.15" y1="583.24" x2="492.75" y2="583.24" stroke="#000" stroke-width="1.6" stroke-linecap="butt"/>
<rect x="485.95" y="578.88" width="6" height="6" fill="#000"/>
<polyline points="347.6,555.55 375.87,539.66 404.14,530.58 432.41,522.86 460.68,514.24 488.95,514.24" fill="none" stroke="#000" stroke-width="2" stroke-linejoin="round"/>
<line x1="347.6" y1="550.1" x2="347.6" y2="561" stroke="#000" stroke-width="1.6" stroke-linecap="butt"/>
<line x1="343.8" y1="550.1" x2="351.4" y2="550.1" stroke="#000" stroke-width="1.6" stroke-linecap="butt"/>
<line x1="343.8" y1="561" x2="351.4" y2="561" stroke="#000" stroke-width="1.6" stroke-linecap="butt"/>
<circle cx="347.6" cy="555.55" r="3.4" fill="#000"/>
<line x1="375.87" y1="532.4" x2="375.87" y2="546.92" stroke="#000" stroke-width="1.6" stroke-linecap="butt"/>
<line x1="372.07" y1="532.4" x2="379.67" y2="532.4" stroke="#000" stroke-width="1.6" stroke-linecap="butt"/>
<line x1="372.07" y1="546.92" x2="379.67" y2="546.92" stroke="#000" stroke-width="1.6" stroke-linecap="butt"/>
<circle cx="375.87" cy="539.66" r="3.4" fill="#000"/>
<line x1="404.14" y1="523.54" x2="404.14" y2="537.62" stroke="#000" stroke-width="1.6" stroke-linecap="butt"/>
<line x1="400.34" y1="523.54" x2="407.94" y2="523.54" stroke="#000" stroke-width="1.6" stroke-linecap="butt"/>
<line x1="400.34" y1="537.62" x2="407.94" y2="537.62" stroke="#000" stroke-width="1.6" stroke-linecap="butt"/>
<circle cx="404.14" cy="530.58" r="3.4" fill="#000"/>
<line x1="432.41" y1="517.64" x2="432.41" y2="528.08" stroke="#000" stroke-width="1.6" stroke-linecap="butt"/>
<line x1="428.61" y1="517.64" x2="436.21" y2="517.64" stroke="#000" stroke-width="1.6" stroke-linecap="butt"/>
<line x1="428.61" y1="528.08" x2="436.21" y2="528.08" stroke="#000" stroke-width="1.6" stroke-linecap="butt"/>
<circle cx="432.41" cy="522.86" r="3.4" fill="#000"/>
<line x1="460.68" y1="502.43" x2="460.68" y2="526.04" stroke="#000" stroke-width="1.6" stroke-linecap="butt"/>
<line x1="456.88" y1="502.43" x2="464.48" y2="502.43" stroke="#000" stroke-width="1.6" stroke-linecap="butt"/>
<line x1="456.88" y1="526.04" x2="464.48" y2="526.04" stroke="#000" stroke-width="1.6" stroke-linecap="butt"/>
<circle cx="460.68" cy="514.24" r="3.4" fill="#000"/>
<line x1="488.95" y1="499.71" x2="488.95" y2="528.76" stroke="#000" stroke-width="1.6" stroke-linecap="butt"/>
<line x1="485.15" y1="499.71" x2="492.75" y2="499.71" stroke="#000" stroke-width="1.6" stroke-linecap="butt"/>
<line x1="485.15" y1="528.76" x2="492.75" y2="528.76" stroke="#000" stroke-width="1.6" stroke-linecap="butt"/>
<circle cx="488.95" cy="514.24" r="3.4" fill="#000"/>
<text x="373.65" y="533.98" font-size="15.5" letter-spacing="1" style="stroke-width:0.3px">*</text>
<text x="401.92" y="523.38" font-size="15.5" letter-spacing="1" style="stroke-width:0.3px">*</text>
<text x="426.68" y="520.48" font-size="15.5" letter-spacing="1" style="stroke-width:0.3px">**</text>
<text x="458.46" y="501.58" font-size="15.5" letter-spacing="1" style="stroke-width:0.3px">*</text>
<text x="486.73" y="499.28" font-size="15.5" letter-spacing="1" style="stroke-width:0.3px">*</text>
<text transform="translate(-0.61,669.6) scale(1.0294,1)" font-size="25.58" fill="#000"><tspan>D</tspan></text>
<radialGradient id="bg7" cx="0.5" cy="0.5" r="0.55"><stop offset="0" stop-color="#181818"/><stop offset="0.55" stop-color="#262626"/><stop offset="0.85" stop-color="#5a5a5a"/><stop offset="1" stop-color="#8a8a8a"/></radialGradient>
<path d="M85.3,698.6 C87.22,698.37 89.08,699.6 91,700.8 C92.92,702 95.35,703.88 96.8,705.8 C98.25,707.72 98.73,710.02 99.7,712.3 C100.67,714.58 101.63,717.58 102.6,719.5 C103.57,721.42 105.5,722.35 105.5,723.8 C105.5,725.25 103.8,726.75 102.6,728.2 C101.4,729.65 99.75,730.82 98.3,732.5 C96.85,734.18 95.35,736.38 93.9,738.3 C92.45,740.22 91.03,742.57 89.6,744 C88.17,745.43 87.22,746.17 85.3,746.9 C83.38,747.63 80.52,748.4 78.1,748.4 C75.68,748.4 72.97,747.63 70.8,746.9 C68.63,746.17 66.77,744 65.1,744 C63.43,744 62,745.93 60.8,746.9 C59.6,747.87 58.63,750.03 57.9,749.8 C57.17,749.57 56.17,746.93 56.4,745.5 C56.63,744.07 59.53,742.88 59.3,741.2 C59.07,739.52 56.2,737.57 55,735.4 C53.8,733.23 52.82,730.6 52.1,728.2 C51.38,725.8 50.58,723.65 50.7,721 C50.82,718.35 51.6,714.47 52.8,712.3 C54,710.13 55.62,709.2 57.9,708 C60.18,706.8 63.87,705.47 66.5,705.1 C69.13,704.73 71.53,706.28 73.7,705.8 C75.87,705.32 77.57,703.4 79.5,702.2 C81.43,701 83.38,698.83 85.3,698.6 Z" fill="url(#bg7)" stroke="#000" stroke-width="1.4"/>
<path d="M44,700 C47,702 48.5,712 48,725 C47.5,738 48.5,750 47,758 L44,758 Z" fill="#666" stroke="#222" stroke-width="0.8"/>
<path d="M94.69,721.23 C95.23,722.89 96,724.88 95.57,726.58 C95.15,728.27 93.42,729.87 92.13,731.42 C90.85,732.98 89.64,734.77 87.87,735.9 C86.1,737.03 83.6,738.12 81.5,738.2 C79.41,738.29 77.18,737.05 75.27,736.42 C73.37,735.8 72.06,735.08 70.06,734.45 C68.07,733.83 64.43,733.93 63.29,732.65 C62.15,731.37 63.16,728.62 63.23,726.78 C63.29,724.94 63.55,723.51 63.65,721.61 C63.75,719.72 62.7,716.95 63.83,715.43 C64.96,713.9 68.32,713.53 70.41,712.47 C72.5,711.42 74.25,709.48 76.37,709.1 C78.49,708.72 80.96,709.77 83.14,710.21 C85.32,710.66 87.93,710.69 89.46,711.77 C90.99,712.84 91.45,715.09 92.32,716.67 C93.19,718.25 94.15,719.58 94.69,721.23 Z" fill="none" stroke="#d8d8d8" stroke-width="0.85"/>
<path d="M91.2,717.53 C92.22,718.78 92.83,720.68 92.96,722.4 C93.09,724.12 92.67,726.1 91.96,727.84 C91.26,729.59 90.2,731.62 88.73,732.87 C87.27,734.13 85.06,734.76 83.15,735.4 C81.24,736.03 78.85,737.17 77.26,736.69 C75.67,736.2 74.93,733.56 73.6,732.48 C72.27,731.39 70.49,731.32 69.28,730.19 C68.07,729.06 66.48,727.33 66.35,725.68 C66.22,724.04 67.66,722.05 68.49,720.3 C69.32,718.56 69.88,716.19 71.36,715.22 C72.84,714.25 75.52,714.89 77.37,714.48 C79.21,714.07 80.85,712.68 82.43,712.75 C84.01,712.83 85.38,714.13 86.84,714.93 C88.31,715.73 90.18,716.29 91.2,717.53 Z" fill="none" stroke="#d8d8d8" stroke-width="0.85"/>
<path d="M83.51,716.05 C84.6,716.66 85.22,718.07 86.04,719.22 C86.86,720.38 88.44,721.76 88.41,723 C88.38,724.24 86.62,725.43 85.85,726.67 C85.09,727.91 84.86,729.7 83.8,730.45 C82.74,731.19 80.82,731.32 79.5,731.13 C78.18,730.95 77.08,729.97 75.85,729.32 C74.62,728.67 72.72,728.31 72.12,727.26 C71.52,726.21 72.23,724.4 72.26,723 C72.29,721.6 71.7,719.9 72.3,718.84 C72.89,717.78 74.63,717.19 75.83,716.65 C77.04,716.11 78.22,715.71 79.5,715.61 C80.78,715.51 82.42,715.45 83.51,716.05 Z" fill="none" stroke="#d8d8d8" stroke-width="0.85"/>
<path d="M83.67,721.18 C83.85,722.44 83.72,723.97 83.32,724.97 C82.91,725.97 82.05,726.52 81.26,727.2 C80.47,727.88 79.4,729.28 78.57,729.04 C77.74,728.81 77.02,726.81 76.31,725.78 C75.59,724.75 74.66,724.04 74.27,722.83 C73.88,721.63 73.56,719.53 73.98,718.54 C74.4,717.55 75.88,717.4 76.78,716.9 C77.69,716.4 78.48,715.47 79.39,715.55 C80.31,715.64 81.56,716.47 82.27,717.41 C82.98,718.35 83.5,719.92 83.67,721.18 Z" fill="none" stroke="#d8d8d8" stroke-width="0.85"/>
<path d="M81.18,721 C81.18,721.83 80.94,722.87 80.57,723.5 C80.21,724.14 79.52,724.8 79,724.8 C78.48,724.79 77.82,724.09 77.46,723.46 C77.09,722.83 76.8,721.83 76.8,721 C76.79,720.17 77.05,719.03 77.42,718.48 C77.78,717.94 78.48,717.71 79,717.72 C79.52,717.73 80.2,717.97 80.56,718.52 C80.92,719.07 81.18,720.17 81.18,721 Z" fill="none" stroke="#d8d8d8" stroke-width="0.85"/>
<path d="M93.58,704.7 C93.82,705.23 93.83,706.1 93.38,706.72 C92.93,707.34 91.82,708.09 90.89,708.44 C89.96,708.78 88.54,709 87.8,708.81 C87.07,708.62 86.63,707.86 86.48,707.28 C86.33,706.7 86.46,705.92 86.91,705.34 C87.37,704.77 88.37,704.12 89.21,703.82 C90.04,703.51 91.21,703.37 91.94,703.52 C92.67,703.66 93.34,704.16 93.58,704.7 Z" fill="none" stroke="#d8d8d8" stroke-width="0.85"/>
<circle cx="57.5" cy="722" r="2.3" fill="none" stroke="#ddd" stroke-width="0.8"/>
<radialGradient id="gdot"><stop offset="0" stop-color="#111"/><stop offset="0.6" stop-color="#333"/><stop offset="1" stop-color="#888"/></radialGradient><circle cx="70" cy="759" r="4.6" fill="url(#gdot)"/><circle cx="94.6" cy="748.7" r="2.5" fill="#555" stroke="#000" stroke-width="0.6"/><circle cx="105.5" cy="704.8" r="2.5" fill="#666" stroke="#000" stroke-width="0.6"/><circle cx="53.5" cy="755.6" r="2.8" fill="#666" stroke="#000" stroke-width="0.6"/>
<radialGradient id="bg8" cx="0.5" cy="0.5" r="0.55"><stop offset="0" stop-color="#181818"/><stop offset="0.55" stop-color="#262626"/><stop offset="0.85" stop-color="#5a5a5a"/><stop offset="1" stop-color="#8a8a8a"/></radialGradient>
<path d="M195.3,710.1 C196.98,710.35 198.93,712.07 201.1,712.3 C203.27,712.53 205.9,711.15 208.3,711.5 C210.7,711.85 213.58,712.72 215.5,714.4 C217.42,716.08 218.12,719.55 219.8,721.6 C221.48,723.65 225.12,724.77 225.6,726.7 C226.08,728.63 223.42,731.17 222.7,733.2 C221.98,735.23 221.07,736.5 221.3,738.9 C221.53,741.3 224.35,745.55 224.1,747.6 C223.85,749.65 221.72,750 219.8,751.2 C217.88,752.4 214.77,753.95 212.6,754.8 C210.43,755.65 208.97,755.82 206.8,756.3 C204.63,756.78 201.77,757.23 199.6,757.7 C197.43,758.17 195.48,759.58 193.8,759.1 C192.12,758.62 190.93,756.48 189.5,754.8 C188.07,753.12 186.4,751.4 185.2,749 C184,746.6 182.53,743.03 182.3,740.4 C182.07,737.77 183.8,735.6 183.8,733.2 C183.8,730.8 182.67,728.17 182.3,726 C181.93,723.83 180.88,722.13 181.6,720.2 C182.32,718.27 185.03,715.97 186.6,714.4 C188.17,712.83 189.55,711.52 191,710.8 C192.45,710.08 193.62,709.85 195.3,710.1 Z" fill="url(#bg8)" stroke="#000" stroke-width="1.4"/>
<path d="M169,712 C173,714 175,722 176,726 L183,727 L183,731 L176,732 C175,740 176,752 174,762 L169,762 Z" fill="#555" stroke="#222" stroke-width="0.8"/>
<path d="M217.93,734 C218.15,736.4 218.89,739.25 218.34,741.55 C217.79,743.85 216.16,746.14 214.62,747.8 C213.08,749.45 211.03,750.79 209.1,751.48 C207.16,752.17 205.1,751.74 203,751.92 C200.9,752.1 198.52,753.19 196.52,752.58 C194.52,751.97 192.38,750.14 190.99,748.26 C189.6,746.38 188.85,743.67 188.18,741.29 C187.51,738.91 186.85,736.36 186.98,734 C187.12,731.64 188.03,729.13 189,727.11 C189.97,725.1 191.47,723.6 192.81,721.9 C194.15,720.2 195.34,718.1 197.03,716.9 C198.73,715.69 201.07,714.5 203,714.68 C204.93,714.85 206.6,717.11 208.6,717.96 C210.59,718.81 213.58,718.25 214.98,719.78 C216.38,721.3 216.5,724.75 216.99,727.12 C217.48,729.49 217.7,731.6 217.93,734 Z" fill="none" stroke="#d8d8d8" stroke-width="0.85"/>
<path d="M216.12,737.31 C216.14,739.53 214.84,742.28 213.63,744.25 C212.42,746.23 210.63,748.49 208.88,749.16 C207.12,749.83 204.94,748.24 203.08,748.26 C201.22,748.27 199.26,749.81 197.71,749.27 C196.16,748.74 194.88,746.66 193.78,745.05 C192.69,743.43 191.37,741.56 191.13,739.57 C190.89,737.58 191.8,735.15 192.32,733.12 C192.84,731.08 193.34,729.17 194.24,727.38 C195.15,725.58 196.3,723.36 197.75,722.34 C199.19,721.31 201.19,721.4 202.92,721.21 C204.64,721.03 206.72,720.42 208.11,721.22 C209.5,722.03 210.34,724.39 211.24,726.02 C212.14,727.64 212.7,729.07 213.51,730.96 C214.32,732.84 216.1,735.1 216.12,737.31 Z" fill="none" stroke="#d8d8d8" stroke-width="0.85"/>
<path d="M209.44,737.99 C209.04,739.93 208.93,742.47 207.94,744.02 C206.96,745.57 204.97,747.01 203.54,747.29 C202.12,747.57 200.83,746.08 199.4,745.71 C197.97,745.34 195.94,746.09 194.96,745.08 C193.99,744.07 193.49,741.47 193.55,739.66 C193.61,737.85 194.92,736.17 195.33,734.21 C195.74,732.26 195.12,729.21 196.02,727.93 C196.91,726.65 199.26,726.84 200.7,726.51 C202.15,726.19 203.43,725.74 204.68,725.99 C205.93,726.24 207.24,726.95 208.19,728.02 C209.13,729.09 210.12,730.72 210.33,732.39 C210.54,734.05 209.84,736.06 209.44,737.99 Z" fill="none" stroke="#d8d8d8" stroke-width="0.85"/>
<path d="M207.42,738.61 C207.04,739.91 206.06,741.41 205.14,742.42 C204.22,743.43 202.8,744.68 201.9,744.65 C201,744.63 200.26,743.15 199.74,742.25 C199.23,741.36 199.03,740.44 198.8,739.28 C198.57,738.12 197.98,736.5 198.36,735.31 C198.74,734.12 200.16,732.94 201.09,732.14 C202.02,731.35 202.96,730.77 203.93,730.53 C204.91,730.28 206.35,729.99 206.92,730.67 C207.49,731.36 207.29,733.31 207.37,734.63 C207.45,735.95 207.79,737.31 207.42,738.61 Z" fill="none" stroke="#d8d8d8" stroke-width="0.85"/>
<path d="M194.03,740 C193.98,740.85 193.56,741.77 193.06,742.4 C192.55,743.02 191.68,743.75 191,743.74 C190.32,743.74 189.47,742.99 188.97,742.37 C188.47,741.75 188,740.79 187.99,740 C187.99,739.21 188.44,738.18 188.94,737.6 C189.45,737.03 190.27,736.61 191,736.56 C191.73,736.51 192.82,736.72 193.32,737.29 C193.83,737.86 194.07,739.15 194.03,740 Z" fill="none" stroke="#d8d8d8" stroke-width="0.85"/>
<g fill="#bbb"><circle cx="196.4" cy="730.3" r="1.3"/><circle cx="205.6" cy="735" r="1.5"/><circle cx="202" cy="742.3" r="1.3"/><circle cx="190" cy="739.9" r="1.1"/></g>
<path d="M56,777 C58,774 62,774 64,776 C67,774 72,774 74,776 C78,773 84,773 88,777 Z M136,777 C138,775 141,775 142,777 Z M190,777 C191,775 193,775 194,777 Z M244,777 C245,775 247,775 248,777 Z" fill="#888" stroke="#333" stroke-width="0.6"/>
<rect x="43.5" y="662.3" width="116.5" height="116.2" stroke="#000" stroke-width="1.7" fill="none"/>
<path d="M42.9,778.5h-3.2M42.9,769.76h-1.4M42.9,764.64h-1.4M42.9,761.01h-1.4M42.9,758.19h-1.4M42.9,755.89h-1.4M42.9,753.95h-1.4M42.9,752.27h-1.4M42.9,750.78h-1.4M42.9,749.45h-3.2M42.9,740.71h-1.4M42.9,735.59h-1.4M42.9,731.96h-1.4M42.9,729.14h-1.4M42.9,726.84h-1.4M42.9,724.9h-1.4M42.9,723.22h-1.4M42.9,721.73h-1.4M42.9,720.4h-3.2M42.9,711.66h-1.4M42.9,706.54h-1.4M42.9,702.91h-1.4M42.9,700.09h-1.4M42.9,697.79h-1.4M42.9,695.85h-1.4M42.9,694.17h-1.4M42.9,692.68h-1.4M42.9,691.35h-3.2M42.9,682.61h-1.4M42.9,677.49h-1.4M42.9,673.86h-1.4M42.9,671.04h-1.4M42.9,668.74h-1.4M42.9,666.8h-1.4M42.9,665.12h-1.4M42.9,663.63h-1.4M42.9,662.3h-3.2" stroke="#000" stroke-width="0.9"/>
<path d="M43.5,779.1v3.2M52.27,779.1v1.4M57.4,779.1v1.4M61.03,779.1v1.4M63.86,779.1v1.4M66.16,779.1v1.4M68.11,779.1v1.4M69.8,779.1v1.4M71.29,779.1v1.4M72.62,779.1v3.2M81.39,779.1v1.4M86.52,779.1v1.4M90.16,779.1v1.4M92.98,779.1v1.4M95.29,779.1v1.4M97.24,779.1v1.4M98.93,779.1v1.4M100.42,779.1v1.4M101.75,779.1v3.2M110.52,779.1v1.4M115.65,779.1v1.4M119.28,779.1v1.4M122.11,779.1v1.4M124.41,779.1v1.4M126.36,779.1v1.4M128.05,779.1v1.4M129.54,779.1v1.4M130.88,779.1v3.2M139.64,779.1v1.4M144.77,779.1v1.4M148.41,779.1v1.4M151.23,779.1v1.4M153.54,779.1v1.4M155.49,779.1v1.4M157.18,779.1v1.4M158.67,779.1v1.4M160,779.1v3.2" stroke="#000" stroke-width="0.9"/>
<rect x="168.75" y="662.3" width="116.25" height="116.2" stroke="#000" stroke-width="1.7" fill="none"/>
<path d="M168.15,778.5h-3.2M168.15,769.76h-1.4M168.15,764.64h-1.4M168.15,761.01h-1.4M168.15,758.19h-1.4M168.15,755.89h-1.4M168.15,753.95h-1.4M168.15,752.27h-1.4M168.15,750.78h-1.4M168.15,749.45h-3.2M168.15,740.71h-1.4M168.15,735.59h-1.4M168.15,731.96h-1.4M168.15,729.14h-1.4M168.15,726.84h-1.4M168.15,724.9h-1.4M168.15,723.22h-1.4M168.15,721.73h-1.4M168.15,720.4h-3.2M168.15,711.66h-1.4M168.15,706.54h-1.4M168.15,702.91h-1.4M168.15,700.09h-1.4M168.15,697.79h-1.4M168.15,695.85h-1.4M168.15,694.17h-1.4M168.15,692.68h-1.4M168.15,691.35h-3.2M168.15,682.61h-1.4M168.15,677.49h-1.4M168.15,673.86h-1.4M168.15,671.04h-1.4M168.15,668.74h-1.4M168.15,666.8h-1.4M168.15,665.12h-1.4M168.15,663.63h-1.4M168.15,662.3h-3.2" stroke="#000" stroke-width="0.9"/>
<path d="M168.75,779.1v3.2M177.5,779.1v1.4M182.62,779.1v1.4M186.25,779.1v1.4M189.06,779.1v1.4M191.37,779.1v1.4M193.31,779.1v1.4M195,779.1v1.4M196.48,779.1v1.4M197.81,779.1v3.2M206.56,779.1v1.4M211.68,779.1v1.4M215.31,779.1v1.4M218.13,779.1v1.4M220.43,779.1v1.4M222.37,779.1v1.4M224.06,779.1v1.4M225.55,779.1v1.4M226.88,779.1v3.2M235.62,779.1v1.4M240.74,779.1v1.4M244.37,779.1v1.4M247.19,779.1v1.4M249.49,779.1v1.4M251.44,779.1v1.4M253.12,779.1v1.4M254.61,779.1v1.4M255.94,779.1v3.2M264.69,779.1v1.4M269.8,779.1v1.4M273.43,779.1v1.4M276.25,779.1v1.4M278.55,779.1v1.4M280.5,779.1v1.4M282.18,779.1v1.4M283.67,779.1v1.4M285,779.1v3.2" stroke="#000" stroke-width="0.9"/>
<rect x="76.25" y="686.3" width="40" height="30.7" stroke="#000" stroke-width="1.5" fill="none"/>
<rect x="202" y="687" width="40" height="30.5" stroke="#000" stroke-width="1.5" fill="none"/>
<text transform="translate(121.01,698.1) scale(1.0042,1)" font-size="15.7" fill="#000"><tspan>13.1</tspan></text>
<text transform="translate(246.49,698.1) scale(1.0177,1)" font-size="15.7" fill="#000"><tspan>1.54</tspan></text>
<path d="M28.6,662 L36.1,678.75 L28.6,676.75 L21.1,678.75 Z" fill="#000"/>
<line x1="28.6" y1="676.25" x2="28.6" y2="733.75" stroke="#000" stroke-width="2.3" stroke-linecap="butt"/>
<text transform="translate(33.3,778.7) rotate(-90) scale(1.0547,1)" font-size="16.28" fill="#000"><tspan>CD1d</tspan></text>
<text transform="translate(44.32,800.2) scale(1.0361,1)" font-size="15.99" fill="#000"><tspan>CD5</tspan></text>
<path d="M283.8,795.2 L266.8,788 L269.3,795.2 L266.8,802.4 Z" fill="#000"/>
<line x1="88" y1="795.2" x2="269.8" y2="795.2" stroke="#000" stroke-width="2" stroke-linecap="butt"/>
<text transform="translate(316.62,670.2) scale(0.9999,1)" font-size="16.57" fill="#000"><tspan>Splenic CD1d</tspan><tspan font-size="10.94" dy="-6.96">hi</tspan><tspan font-size="16.57" dy="6.96">CD5</tspan><tspan font-size="10.94" dy="-6.96">+</tspan><tspan font-size="16.57" dy="6.96"> B cell</tspan></text>
<text transform="translate(305.2,795.23) rotate(-90) scale(1.0928,1)" font-size="14.1" fill="#000"><tspan>Cell number (x10</tspan><tspan font-size="10.72" dy="-5.08">4</tspan><tspan font-size="14.1" dy="5.08">)</tspan></text>
<line x1="333" y1="677" x2="333" y2="792.65" stroke="#000" stroke-width="2.7" stroke-linecap="butt"/>
<line x1="326.5" y1="791.3" x2="504.5" y2="791.3" stroke="#000" stroke-width="2.7" stroke-linecap="butt"/>
<text transform="translate(317.72,795.9) scale(0.9666,1)" font-size="15.02" fill="#000"><tspan>0</tspan></text>
<line x1="326.5" y1="753.4" x2="333" y2="753.4" stroke="#000" stroke-width="2.4" stroke-linecap="butt"/>
<text transform="translate(317.53,758) scale(0.9666,1)" font-size="15.02" fill="#000"><tspan>5</tspan></text>
<line x1="326.5" y1="715.5" x2="333" y2="715.5" stroke="#000" stroke-width="2.4" stroke-linecap="butt"/>
<text transform="translate(309.64,720.1) scale(0.9666,1)" font-size="15.02" fill="#000"><tspan>10</tspan></text>
<line x1="326.5" y1="677.6" x2="333" y2="677.6" stroke="#000" stroke-width="2.4" stroke-linecap="butt"/>
<text transform="translate(309.45,682.2) scale(0.9666,1)" font-size="15.02" fill="#000"><tspan>15</tspan></text>
<line x1="347" y1="791.3" x2="347" y2="797.6" stroke="#000" stroke-width="2.4" stroke-linecap="butt"/>
<text transform="translate(342.97,809.6) scale(0.9701,1)" font-size="14.97" fill="#000"><tspan>7</tspan></text>
<line x1="375.3" y1="791.3" x2="375.3" y2="797.6" stroke="#000" stroke-width="2.4" stroke-linecap="butt"/>
<text transform="translate(366.8,809.6) scale(0.9701,1)" font-size="14.97" fill="#000"><tspan>14</tspan></text>
<line x1="403.6" y1="791.3" x2="403.6" y2="797.6" stroke="#000" stroke-width="2.4" stroke-linecap="butt"/>
<text transform="translate(395.47,809.6) scale(0.9701,1)" font-size="14.97" fill="#000"><tspan>21</tspan></text>
<line x1="431.9" y1="791.3" x2="431.9" y2="797.6" stroke="#000" stroke-width="2.4" stroke-linecap="butt"/>
<text transform="translate(423.79,809.6) scale(0.9701,1)" font-size="14.97" fill="#000"><tspan>28</tspan></text>
<line x1="460.2" y1="791.3" x2="460.2" y2="797.6" stroke="#000" stroke-width="2.4" stroke-linecap="butt"/>
<text transform="translate(452.16,809.6) scale(0.9701,1)" font-size="14.97" fill="#000"><tspan>35</tspan></text>
<line x1="488.5" y1="791.3" x2="488.5" y2="797.6" stroke="#000" stroke-width="2.4" stroke-linecap="butt"/>
<text transform="translate(480.6,809.6) scale(0.9701,1)" font-size="14.97" fill="#000"><tspan>42</tspan></text>
<text transform="translate(349.27,823.3) scale(1.0346,1)" font-size="14.83" fill="#000"><tspan>Days post transplant</tspan></text>
<polyline points="347,770.08 375.3,784.86 403.6,787.51 431.9,783.72 460.2,782.2 488.5,776.14" fill="none" stroke="#000" stroke-width="2" stroke-linejoin="round"/>
<line x1="347" y1="764.01" x2="347" y2="776.14" stroke="#000" stroke-width="1.6" stroke-linecap="butt"/>
<line x1="343.2" y1="764.01" x2="350.8" y2="764.01" stroke="#000" stroke-width="1.6" stroke-linecap="butt"/>
<line x1="343.2" y1="776.14" x2="350.8" y2="776.14" stroke="#000" stroke-width="1.6" stroke-linecap="butt"/>
<rect x="344" y="767.08" width="6" height="6" fill="#000"/>
<line x1="375.3" y1="783.34" x2="375.3" y2="786.37" stroke="#000" stroke-width="1.6" stroke-linecap="butt"/>
<line x1="371.5" y1="783.34" x2="379.1" y2="783.34" stroke="#000" stroke-width="1.6" stroke-linecap="butt"/>
<line x1="371.5" y1="786.37" x2="379.1" y2="786.37" stroke="#000" stroke-width="1.6" stroke-linecap="butt"/>
<rect x="372.3" y="781.86" width="6" height="6" fill="#000"/>
<line x1="403.6" y1="785.99" x2="403.6" y2="789.03" stroke="#000" stroke-width="1.6" stroke-linecap="butt"/>
<line x1="399.8" y1="785.99" x2="407.4" y2="785.99" stroke="#000" stroke-width="1.6" stroke-linecap="butt"/>
<line x1="399.8" y1="789.03" x2="407.4" y2="789.03" stroke="#000" stroke-width="1.6" stroke-linecap="butt"/>
<rect x="400.6" y="784.51" width="6" height="6" fill="#000"/>
<line x1="431.9" y1="782.2" x2="431.9" y2="785.24" stroke="#000" stroke-width="1.6" stroke-linecap="butt"/>
<line x1="428.1" y1="782.2" x2="435.7" y2="782.2" stroke="#000" stroke-width="1.6" stroke-linecap="butt"/>
<line x1="428.1" y1="785.24" x2="435.7" y2="785.24" stroke="#000" stroke-width="1.6" stroke-linecap="butt"/>
<rect x="428.9" y="780.72" width="6" height="6" fill="#000"/>
<line x1="460.2" y1="780.69" x2="460.2" y2="783.72" stroke="#000" stroke-width="1.6" stroke-linecap="butt"/>
<line x1="456.4" y1="780.69" x2="464" y2="780.69" stroke="#000" stroke-width="1.6" stroke-linecap="butt"/>
<line x1="456.4" y1="783.72" x2="464" y2="783.72" stroke="#000" stroke-width="1.6" stroke-linecap="butt"/>
<rect x="457.2" y="779.2" width="6" height="6" fill="#000"/>
<line x1="488.5" y1="769.62" x2="488.5" y2="782.66" stroke="#000" stroke-width="1.6" stroke-linecap="butt"/>
<line x1="484.7" y1="769.62" x2="492.3" y2="769.62" stroke="#000" stroke-width="1.6" stroke-linecap="butt"/>
<line x1="484.7" y1="782.66" x2="492.3" y2="782.66" stroke="#000" stroke-width="1.6" stroke-linecap="butt"/>
<rect x="485.5" y="773.14" width="6" height="6" fill="#000"/>
<polyline points="347,765.53 375.3,758.71 403.6,720.81 431.9,729.9 460.2,722.32 488.5,729.9" fill="none" stroke="#000" stroke-width="2" stroke-linejoin="round"/>
<line x1="347" y1="757.95" x2="347" y2="773.11" stroke="#000" stroke-width="1.6" stroke-linecap="butt"/>
<line x1="343.2" y1="757.95" x2="350.8" y2="757.95" stroke="#000" stroke-width="1.6" stroke-linecap="butt"/>
<line x1="343.2" y1="773.11" x2="350.8" y2="773.11" stroke="#000" stroke-width="1.6" stroke-linecap="butt"/>
<circle cx="347" cy="765.53" r="3.4" fill="#000"/>
<line x1="375.3" y1="754.16" x2="375.3" y2="763.25" stroke="#000" stroke-width="1.6" stroke-linecap="butt"/>
<line x1="371.5" y1="754.16" x2="379.1" y2="754.16" stroke="#000" stroke-width="1.6" stroke-linecap="butt"/>
<line x1="371.5" y1="763.25" x2="379.1" y2="763.25" stroke="#000" stroke-width="1.6" stroke-linecap="butt"/>
<circle cx="375.3" cy="758.71" r="3.4" fill="#000"/>
<line x1="403.6" y1="709.44" x2="403.6" y2="732.18" stroke="#000" stroke-width="1.6" stroke-linecap="butt"/>
<line x1="399.8" y1="709.44" x2="407.4" y2="709.44" stroke="#000" stroke-width="1.6" stroke-linecap="butt"/>
<line x1="399.8" y1="732.18" x2="407.4" y2="732.18" stroke="#000" stroke-width="1.6" stroke-linecap="butt"/>
<circle cx="403.6" cy="720.81" r="3.4" fill="#000"/>
<line x1="431.9" y1="718.23" x2="431.9" y2="741.58" stroke="#000" stroke-width="1.6" stroke-linecap="butt"/>
<line x1="428.1" y1="718.23" x2="435.7" y2="718.23" stroke="#000" stroke-width="1.6" stroke-linecap="butt"/>
<line x1="428.1" y1="741.58" x2="435.7" y2="741.58" stroke="#000" stroke-width="1.6" stroke-linecap="butt"/>
<circle cx="431.9" cy="729.9" r="3.4" fill="#000"/>
<line x1="460.2" y1="710.19" x2="460.2" y2="734.45" stroke="#000" stroke-width="1.6" stroke-linecap="butt"/>
<line x1="456.4" y1="710.19" x2="464" y2="710.19" stroke="#000" stroke-width="1.6" stroke-linecap="butt"/>
<line x1="456.4" y1="734.45" x2="464" y2="734.45" stroke="#000" stroke-width="1.6" stroke-linecap="butt"/>
<circle cx="460.2" cy="722.32" r="3.4" fill="#000"/>
<line x1="488.5" y1="719.29" x2="488.5" y2="740.51" stroke="#000" stroke-width="1.6" stroke-linecap="butt"/>
<line x1="484.7" y1="719.29" x2="492.3" y2="719.29" stroke="#000" stroke-width="1.6" stroke-linecap="butt"/>
<line x1="484.7" y1="740.51" x2="492.3" y2="740.51" stroke="#000" stroke-width="1.6" stroke-linecap="butt"/>
<circle cx="488.5" cy="729.9" r="3.4" fill="#000"/>
<text x="373.08" y="755.48" font-size="15.5" letter-spacing="1" style="stroke-width:0.3px">*</text>
<text x="401.38" y="711.28" font-size="15.5" letter-spacing="1" style="stroke-width:0.3px">*</text>
<text x="429.68" y="720.48" font-size="15.5" letter-spacing="1" style="stroke-width:0.3px">*</text>
<text x="457.98" y="712.18" font-size="15.5" letter-spacing="1" style="stroke-width:0.3px">*</text>
<text x="486.28" y="722.38" font-size="15.5" letter-spacing="1" style="stroke-width:0.3px">*</text>
<text transform="translate(-0.6,866.2) scale(1.0208,1)" font-size="25.58" fill="#000"><tspan>E</tspan></text>
<radialGradient id="bg9" cx="0.5" cy="0.5" r="0.55"><stop offset="0" stop-color="#181818"/><stop offset="0.55" stop-color="#262626"/><stop offset="0.85" stop-color="#5a5a5a"/><stop offset="1" stop-color="#8a8a8a"/></radialGradient>
<path d="M90.7,933.8 C91.9,933.72 93.65,934.57 95,935.1 C96.35,935.63 97.52,935.97 98.8,937 C100.08,938.03 101.5,939.62 102.7,941.3 C103.9,942.98 105.37,945.02 106,947.1 C106.63,949.18 106.57,951.4 106.5,953.8 C106.43,956.2 106,958.93 105.6,961.5 C105.2,964.07 104.5,966.63 104.1,969.2 C103.7,971.77 103.12,974.97 103.2,976.9 C103.28,978.83 104.05,979.45 104.6,980.8 C105.15,982.15 110.27,984.3 106.5,985 C102.73,985.7 85.83,985.7 82,985 C78.17,984.3 83.1,982.15 83.5,980.8 C83.9,979.45 84.4,978.83 84.4,976.9 C84.4,974.97 83.73,971.77 83.5,969.2 C83.27,966.63 83,964.38 83,961.5 C83,958.62 83.27,954.78 83.5,951.9 C83.73,949.02 84.08,946.43 84.4,944.2 C84.72,941.97 84.83,939.93 85.4,938.5 C85.97,937.07 86.92,936.38 87.8,935.6 C88.68,934.82 89.5,933.88 90.7,933.8 Z" fill="url(#bg9)" stroke="#000" stroke-width="1.4"/>
<g fill="none" stroke="#ddd" stroke-width="0.8"><ellipse cx="95" cy="960" rx="8.5" ry="15.5"/><ellipse cx="95" cy="959" rx="5" ry="8.5"/><ellipse cx="95" cy="958" rx="2.6" ry="4.5"/></g><circle cx="95" cy="957.5" r="1.1" fill="#eee"/>
<radialGradient id="bg10" cx="0.5" cy="0.5" r="0.55"><stop offset="0" stop-color="#181818"/><stop offset="0.55" stop-color="#262626"/><stop offset="0.85" stop-color="#5a5a5a"/><stop offset="1" stop-color="#8a8a8a"/></radialGradient>
<path d="M216.2,944.3 C217.4,944.22 219.15,945.07 220.5,945.6 C221.85,946.13 223.02,946.47 224.3,947.5 C225.58,948.53 227,950.12 228.2,951.8 C229.4,953.48 230.87,955.52 231.5,957.6 C232.13,959.68 232.07,961.9 232,964.3 C231.93,966.7 231.5,969.43 231.1,972 C230.7,974.57 230,977.13 229.6,979.7 C229.2,982.27 228.62,987.22 228.7,987.4 C228.78,987.58 229.55,981.2 230.1,980.8 C230.65,980.4 235.77,984.3 232,985 C228.23,985.7 211.33,985.7 207.5,985 C203.67,984.3 208.6,980.4 209,980.8 C209.4,981.2 209.9,987.58 209.9,987.4 C209.9,987.22 209.23,982.27 209,979.7 C208.77,977.13 208.5,974.88 208.5,972 C208.5,969.12 208.77,965.28 209,962.4 C209.23,959.52 209.58,956.93 209.9,954.7 C210.22,952.47 210.33,950.43 210.9,949 C211.47,947.57 212.42,946.88 213.3,946.1 C214.18,945.32 215,944.38 216.2,944.3 Z" fill="url(#bg10)" stroke="#000" stroke-width="1.4"/>
<g fill="none" stroke="#ddd" stroke-width="0.8"><ellipse cx="220.5" cy="964.12" rx="7.22" ry="13.17"/><ellipse cx="220.5" cy="963.27" rx="4.25" ry="7.22"/><ellipse cx="220.5" cy="962.42" rx="2.21" ry="3.82"/></g><circle cx="220.5" cy="962" r="1.1" fill="#eee"/>
<path d="M85.5,938 C87,934 90,933 91,934 L94,935 C99,936 102,940 103,942 L88,943 Z" fill="#000"/>
<rect x="43.5" y="870" width="115.9" height="115.5" stroke="#000" stroke-width="1.7" fill="none"/>
<path d="M42.9,985.5h-3.2M42.9,976.81h-1.4M42.9,971.72h-1.4M42.9,968.12h-1.4M42.9,965.32h-1.4M42.9,963.03h-1.4M42.9,961.1h-1.4M42.9,959.42h-1.4M42.9,957.95h-1.4M42.9,956.62h-3.2M42.9,947.93h-1.4M42.9,942.85h-1.4M42.9,939.24h-1.4M42.9,936.44h-1.4M42.9,934.16h-1.4M42.9,932.22h-1.4M42.9,930.55h-1.4M42.9,929.07h-1.4M42.9,927.75h-3.2M42.9,919.06h-1.4M42.9,913.97h-1.4M42.9,910.37h-1.4M42.9,907.57h-1.4M42.9,905.28h-1.4M42.9,903.35h-1.4M42.9,901.67h-1.4M42.9,900.2h-1.4M42.9,898.88h-3.2M42.9,890.18h-1.4M42.9,885.1h-1.4M42.9,881.49h-1.4M42.9,878.69h-1.4M42.9,876.41h-1.4M42.9,874.47h-1.4M42.9,872.8h-1.4M42.9,871.32h-1.4M42.9,870h-3.2" stroke="#000" stroke-width="0.9"/>
<path d="M43.5,986.1v3.2M52.22,986.1v1.4M57.32,986.1v1.4M60.94,986.1v1.4M63.75,986.1v1.4M66.05,986.1v1.4M67.99,986.1v1.4M69.67,986.1v1.4M71.15,986.1v1.4M72.47,986.1v3.2M81.2,986.1v1.4M86.3,986.1v1.4M89.92,986.1v1.4M92.73,986.1v1.4M95.02,986.1v1.4M96.96,986.1v1.4M98.64,986.1v1.4M100.12,986.1v1.4M101.45,986.1v3.2M110.17,986.1v1.4M115.27,986.1v1.4M118.89,986.1v1.4M121.7,986.1v1.4M124,986.1v1.4M125.94,986.1v1.4M127.62,986.1v1.4M129.1,986.1v1.4M130.43,986.1v3.2M139.15,986.1v1.4M144.25,986.1v1.4M147.87,986.1v1.4M150.68,986.1v1.4M152.97,986.1v1.4M154.91,986.1v1.4M156.59,986.1v1.4M158.07,986.1v1.4M159.4,986.1v3.2" stroke="#000" stroke-width="0.9"/>
<rect x="168.8" y="870" width="116" height="115.5" stroke="#000" stroke-width="1.7" fill="none"/>
<path d="M168.2,985.5h-3.2M168.2,976.81h-1.4M168.2,971.72h-1.4M168.2,968.12h-1.4M168.2,965.32h-1.4M168.2,963.03h-1.4M168.2,961.1h-1.4M168.2,959.42h-1.4M168.2,957.95h-1.4M168.2,956.62h-3.2M168.2,947.93h-1.4M168.2,942.85h-1.4M168.2,939.24h-1.4M168.2,936.44h-1.4M168.2,934.16h-1.4M168.2,932.22h-1.4M168.2,930.55h-1.4M168.2,929.07h-1.4M168.2,927.75h-3.2M168.2,919.06h-1.4M168.2,913.97h-1.4M168.2,910.37h-1.4M168.2,907.57h-1.4M168.2,905.28h-1.4M168.2,903.35h-1.4M168.2,901.67h-1.4M168.2,900.2h-1.4M168.2,898.88h-3.2M168.2,890.18h-1.4M168.2,885.1h-1.4M168.2,881.49h-1.4M168.2,878.69h-1.4M168.2,876.41h-1.4M168.2,874.47h-1.4M168.2,872.8h-1.4M168.2,871.32h-1.4M168.2,870h-3.2" stroke="#000" stroke-width="0.9"/>
<path d="M168.8,986.1v3.2M177.53,986.1v1.4M182.64,986.1v1.4M186.26,986.1v1.4M189.07,986.1v1.4M191.37,986.1v1.4M193.31,986.1v1.4M194.99,986.1v1.4M196.47,986.1v1.4M197.8,986.1v3.2M206.53,986.1v1.4M211.64,986.1v1.4M215.26,986.1v1.4M218.07,986.1v1.4M220.37,986.1v1.4M222.31,986.1v1.4M223.99,986.1v1.4M225.47,986.1v1.4M226.8,986.1v3.2M235.53,986.1v1.4M240.64,986.1v1.4M244.26,986.1v1.4M247.07,986.1v1.4M249.37,986.1v1.4M251.31,986.1v1.4M252.99,986.1v1.4M254.47,986.1v1.4M255.8,986.1v3.2M264.53,986.1v1.4M269.64,986.1v1.4M273.26,986.1v1.4M276.07,986.1v1.4M278.37,986.1v1.4M280.31,986.1v1.4M281.99,986.1v1.4M283.47,986.1v1.4M284.8,986.1v3.2" stroke="#000" stroke-width="0.9"/>
<rect x="76.25" y="870" width="48.75" height="80.3" stroke="#000" stroke-width="1.5" fill="none"/>
<rect x="201.2" y="870" width="49" height="79.7" stroke="#000" stroke-width="1.5" fill="none"/>
<text transform="translate(84.02,888.1) scale(0.9936,1)" font-size="15.7" fill="#000"><tspan>11.2</tspan></text>
<text transform="translate(208.8,888.3) scale(1.0163,1)" font-size="15.7" fill="#000"><tspan>1.71</tspan></text>
<path d="M28.6,871.2 L36.1,887.5 L28.6,885.5 L21.1,887.5 Z" fill="#000"/>
<line x1="28.6" y1="885" x2="28.6" y2="943.75" stroke="#000" stroke-width="2.3" stroke-linecap="butt"/>
<text transform="translate(33.5,989.1) rotate(-90) scale(0.9963,1)" font-size="16.57" fill="#000"><tspan>IL-10</tspan></text>
<text transform="translate(44.38,1007.6) scale(1.0480,1)" font-size="15.99" fill="#000"><tspan>B220</tspan></text>
<path d="M284.4,1002.9 L267.5,995.8 L270,1002.9 L267.5,1010 Z" fill="#000"/>
<line x1="88.75" y1="1002.9" x2="270.5" y2="1002.9" stroke="#000" stroke-width="2" stroke-linecap="butt"/>
<text transform="translate(341.23,869.1) scale(0.9838,1)" font-size="16.57" fill="#000"><tspan>Splenic IL-10</tspan><tspan font-size="10.94" dy="-6.96">+</tspan><tspan font-size="16.57" dy="6.96">B cell</tspan></text>
<text transform="translate(305.2,994.52) rotate(-90) scale(1.0692,1)" font-size="14.1" fill="#000"><tspan>Cell number (x10</tspan><tspan font-size="10.72" dy="-5.08">3</tspan><tspan font-size="14.1" dy="5.08">)</tspan></text>
<line x1="333.3" y1="876.7" x2="333.3" y2="991.55" stroke="#000" stroke-width="2.7" stroke-linecap="butt"/>
<line x1="326.8" y1="990.2" x2="505.2" y2="990.2" stroke="#000" stroke-width="2.7" stroke-linecap="butt"/>
<text transform="translate(317.72,994.8) scale(0.9666,1)" font-size="15.02" fill="#000"><tspan>0</tspan></text>
<line x1="326.8" y1="952.7" x2="333.3" y2="952.7" stroke="#000" stroke-width="2.4" stroke-linecap="butt"/>
<text transform="translate(309.64,957.3) scale(0.9666,1)" font-size="15.02" fill="#000"><tspan>10</tspan></text>
<line x1="326.8" y1="915.2" x2="333.3" y2="915.2" stroke="#000" stroke-width="2.4" stroke-linecap="butt"/>
<text transform="translate(309.64,919.8) scale(0.9666,1)" font-size="15.02" fill="#000"><tspan>20</tspan></text>
<line x1="326.8" y1="877.7" x2="333.3" y2="877.7" stroke="#000" stroke-width="2.4" stroke-linecap="butt"/>
<text transform="translate(309.64,882.3) scale(0.9666,1)" font-size="15.02" fill="#000"><tspan>30</tspan></text>
<line x1="347.6" y1="990.2" x2="347.6" y2="996.5" stroke="#000" stroke-width="2.4" stroke-linecap="butt"/>
<text transform="translate(343.57,1009.7) scale(0.9701,1)" font-size="14.97" fill="#000"><tspan>7</tspan></text>
<line x1="375.87" y1="990.2" x2="375.87" y2="996.5" stroke="#000" stroke-width="2.4" stroke-linecap="butt"/>
<text transform="translate(367.37,1009.7) scale(0.9701,1)" font-size="14.97" fill="#000"><tspan>14</tspan></text>
<line x1="404.14" y1="990.2" x2="404.14" y2="996.5" stroke="#000" stroke-width="2.4" stroke-linecap="butt"/>
<text transform="translate(396.01,1009.7) scale(0.9701,1)" font-size="14.97" fill="#000"><tspan>21</tspan></text>
<line x1="432.41" y1="990.2" x2="432.41" y2="996.5" stroke="#000" stroke-width="2.4" stroke-linecap="butt"/>
<text transform="translate(424.3,1009.7) scale(0.9701,1)" font-size="14.97" fill="#000"><tspan>28</tspan></text>
<line x1="460.68" y1="990.2" x2="460.68" y2="996.5" stroke="#000" stroke-width="2.4" stroke-linecap="butt"/>
<text transform="translate(452.64,1009.7) scale(0.9701,1)" font-size="14.97" fill="#000"><tspan>35</tspan></text>
<line x1="488.95" y1="990.2" x2="488.95" y2="996.5" stroke="#000" stroke-width="2.4" stroke-linecap="butt"/>
<text transform="translate(481.05,1009.7) scale(0.9701,1)" font-size="14.97" fill="#000"><tspan>42</tspan></text>
<text transform="translate(349.27,1023.3) scale(1.0346,1)" font-size="14.83" fill="#000"><tspan>Days post transplant</tspan></text>
<polyline points="347.6,981.76 375.87,972.95 404.14,990.2 432.41,990.2 460.68,987.2 488.95,987.2" fill="none" stroke="#000" stroke-width="2" stroke-linejoin="round"/>
<rect x="344.6" y="978.76" width="6" height="6" fill="#000"/>
<rect x="372.87" y="969.95" width="6" height="6" fill="#000"/>
<rect x="401.14" y="987.2" width="6" height="6" fill="#000"/>
<rect x="429.41" y="987.2" width="6" height="6" fill="#000"/>
<rect x="457.68" y="984.2" width="6" height="6" fill="#000"/>
<rect x="485.95" y="984.2" width="6" height="6" fill="#000"/>
<polyline points="347.6,956.45 375.87,929.45 404.14,899.83 432.41,930.95 460.68,952.7 488.95,953.45" fill="none" stroke="#000" stroke-width="2" stroke-linejoin="round"/>
<line x1="347.6" y1="951.2" x2="347.6" y2="961.7" stroke="#000" stroke-width="1.6" stroke-linecap="butt"/>
<line x1="343.8" y1="951.2" x2="351.4" y2="951.2" stroke="#000" stroke-width="1.6" stroke-linecap="butt"/>
<line x1="343.8" y1="961.7" x2="351.4" y2="961.7" stroke="#000" stroke-width="1.6" stroke-linecap="butt"/>
<circle cx="347.6" cy="956.45" r="3.4" fill="#000"/>
<line x1="375.87" y1="924.95" x2="375.87" y2="933.95" stroke="#000" stroke-width="1.6" stroke-linecap="butt"/>
<line x1="372.07" y1="924.95" x2="379.67" y2="924.95" stroke="#000" stroke-width="1.6" stroke-linecap="butt"/>
<line x1="372.07" y1="933.95" x2="379.67" y2="933.95" stroke="#000" stroke-width="1.6" stroke-linecap="butt"/>
<circle cx="375.87" cy="929.45" r="3.4" fill="#000"/>
<line x1="404.14" y1="892.51" x2="404.14" y2="907.14" stroke="#000" stroke-width="1.6" stroke-linecap="butt"/>
<line x1="400.34" y1="892.51" x2="407.94" y2="892.51" stroke="#000" stroke-width="1.6" stroke-linecap="butt"/>
<line x1="400.34" y1="907.14" x2="407.94" y2="907.14" stroke="#000" stroke-width="1.6" stroke-linecap="butt"/>
<circle cx="404.14" cy="899.83" r="3.4" fill="#000"/>
<line x1="432.41" y1="920.45" x2="432.41" y2="941.45" stroke="#000" stroke-width="1.6" stroke-linecap="butt"/>
<line x1="428.61" y1="920.45" x2="436.21" y2="920.45" stroke="#000" stroke-width="1.6" stroke-linecap="butt"/>
<line x1="428.61" y1="941.45" x2="436.21" y2="941.45" stroke="#000" stroke-width="1.6" stroke-linecap="butt"/>
<circle cx="432.41" cy="930.95" r="3.4" fill="#000"/>
<line x1="460.68" y1="948.58" x2="460.68" y2="956.83" stroke="#000" stroke-width="1.6" stroke-linecap="butt"/>
<line x1="456.88" y1="948.58" x2="464.48" y2="948.58" stroke="#000" stroke-width="1.6" stroke-linecap="butt"/>
<line x1="456.88" y1="956.83" x2="464.48" y2="956.83" stroke="#000" stroke-width="1.6" stroke-linecap="butt"/>
<circle cx="460.68" cy="952.7" r="3.4" fill="#000"/>
<line x1="488.95" y1="942.58" x2="488.95" y2="964.33" stroke="#000" stroke-width="1.6" stroke-linecap="butt"/>
<line x1="485.15" y1="942.58" x2="492.75" y2="942.58" stroke="#000" stroke-width="1.6" stroke-linecap="butt"/>
<line x1="485.15" y1="964.33" x2="492.75" y2="964.33" stroke="#000" stroke-width="1.6" stroke-linecap="butt"/>
<circle cx="488.95" cy="953.45" r="3.4" fill="#000"/>
<text x="345.38" y="951.58" font-size="15.5" letter-spacing="1" style="stroke-width:0.3px">*</text>
<text x="370.14" y="923.58" font-size="15.5" letter-spacing="1" style="stroke-width:0.3px">**</text>
<text x="398.41" y="892.38" font-size="15.5" letter-spacing="1" style="stroke-width:0.3px">**</text>
<text x="430.19" y="923.18" font-size="15.5" letter-spacing="1" style="stroke-width:0.3px">*</text>
<text x="458.46" y="950.08" font-size="15.5" letter-spacing="1" style="stroke-width:0.3px">*</text>
</svg></body></html>
